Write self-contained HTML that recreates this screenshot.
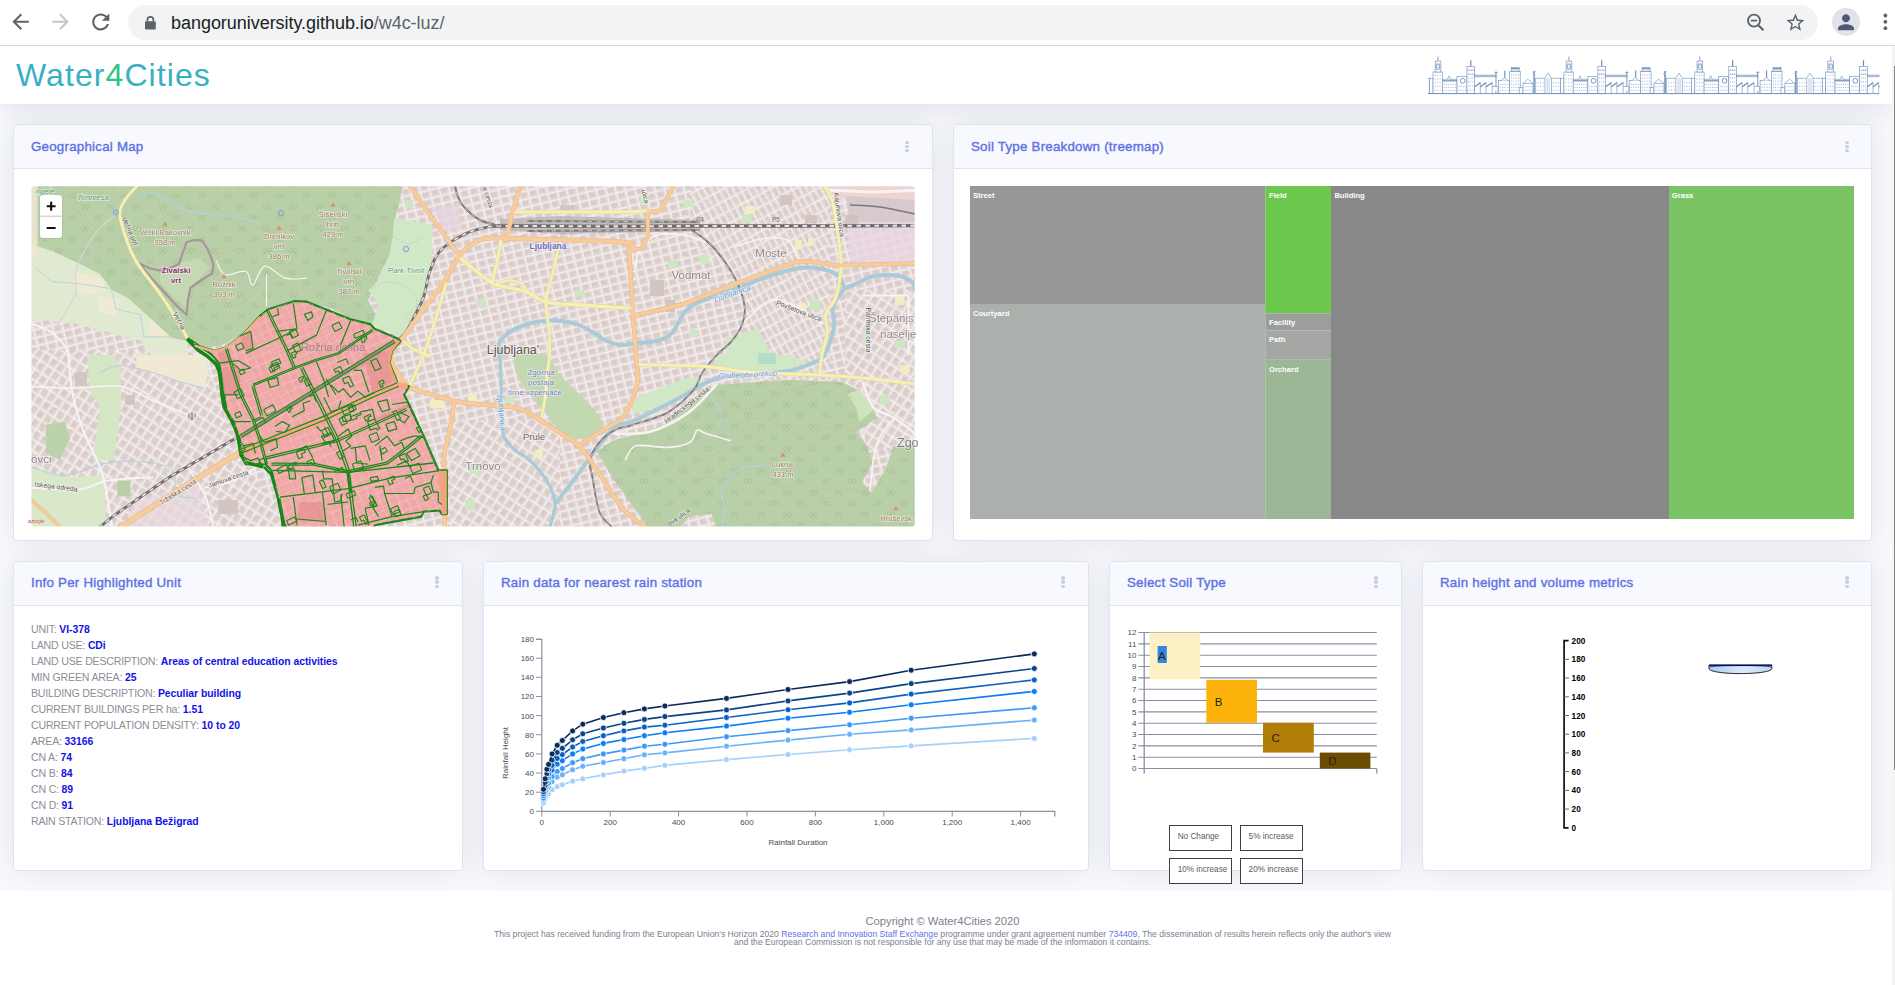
<!DOCTYPE html>
<html>
<head>
<meta charset="utf-8">
<title>Water4Cities</title>
<style>
*{box-sizing:border-box;margin:0;padding:0}
html,body{width:1895px;height:985px;overflow:hidden}
body{font-family:"Liberation Sans",sans-serif;background:#fff;position:relative;color:#525f7f}
.abs{position:absolute}
svg{display:block;overflow:visible}
svg text{font-family:"Liberation Sans",sans-serif}
/* browser chrome */
#chrome{position:absolute;left:0;top:0;width:1895px;height:46px;background:#fff;border-bottom:1px solid #d6d8db;z-index:20}
#pill{position:absolute;left:128px;top:5px;width:1690px;height:35px;border-radius:17.5px;background:#f1f3f4}
#url{position:absolute;left:171px;top:11.6px;font-size:18px;line-height:22px;color:#202124;white-space:nowrap;letter-spacing:-0.04px}
#url span{color:#5f6368}
/* page */
#page{position:absolute;left:0;top:46px;width:1892px;height:939px;background:#f8f9fe;overflow:hidden}
#sb{position:absolute;left:1892px;top:46px;width:3px;height:939px;background:#f4f4f4;z-index:15}
#sb i{position:absolute;left:1.8px;top:20px;width:1.2px;height:704px;background:#858585}
#hdr{position:absolute;left:0;top:0;width:1892px;height:58px;background:#fff;box-shadow:0 0 30px 0 rgba(0,0,5,.125);z-index:5}
#brand{position:absolute;left:16px;top:9.2px;font-size:32px;line-height:40px;color:#38b0c4;white-space:nowrap;letter-spacing:1.07px}
#brand b{font-weight:normal;color:#2cc585}
.card{position:absolute;background:#fff;border:1px solid #e0e3f2;border-radius:4px;box-shadow:0 0 30px 0 rgba(0,0,5,.085)}
.card .ch{position:absolute;left:0;top:0;right:0;height:44px;background:#f8f9fe;border-bottom:1px solid #e1e4f2;border-radius:3px 3px 0 0}
.card .ch h6{position:absolute;left:17px;top:13.5px;font-size:13.3px;line-height:16px;font-weight:normal;-webkit-text-stroke:0.4px #5e72e4;letter-spacing:0.24px;color:#5e72e4;white-space:nowrap}
.kebab{position:absolute;right:23px;top:15.6px;width:3.6px;height:13px}
.kebab i{position:absolute;left:0;width:3.6px;height:3.6px;border-radius:50%;background:#cbcee2}
#foot{position:absolute;left:0;top:845px;width:1892px;height:94px;background:#fff;color:#7b8090;z-index:1}
#foot div{position:absolute;white-space:nowrap;text-align:center;left:0;width:1885px}
#foot a{color:#5e72e4;text-decoration:none}
/* treemap */
#tm{position:absolute;left:970px;top:140.3px;width:884px;height:332.5px}
#tm div{position:absolute;color:#fff;font-size:7.6px;font-weight:bold;line-height:10px;padding:5px 0 0 3px;white-space:nowrap;overflow:hidden}
/* info */
#info{position:absolute;left:31px;top:575px;font-size:10.6px;line-height:16px;color:#8a8e97;white-space:nowrap;letter-spacing:-0.2px}
#info div{height:16px;overflow:visible}
#info b{line-height:10px;color:#1212e6;font-weight:bold;font-size:10.4px;letter-spacing:-0.03px}
.btn{position:absolute;width:63.6px;height:26px;background:#fff;border:1.3px solid #404040;font-size:8.2px;line-height:10px;color:#5a5a66;padding:6.3px 0 0 8px;white-space:nowrap;z-index:6}
#c2 .kebab,#c6 .kebab{right:22px}
#c3 h6,#c4 h6,#c5 h6,#c6 h6{top:12.6px}
#c3 .kebab,#c4 .kebab,#c5 .kebab,#c6 .kebab{top:14.4px}
</style>
</head>
<body>
<div id="chrome">
  <div id="pill"></div>
  <svg class="abs" style="left:0;top:0;width:1895px;height:46px" viewBox="0 0 1895 46">
    <path transform="translate(8.3 9.5) scale(1.025)" fill="#5f6368" d="M20 11H7.83l5.59-5.59L12 4l-8 8 8 8 1.41-1.41L7.83 13H20v-2z"/>
    <path transform="translate(48.3 9.5) scale(1.025)" fill="#c4c7cb" d="M12 4l-1.41 1.41L16.17 11H4v2h12.17l-5.58 5.59L12 20l8-8z"/>
    <path transform="translate(87.9 9.1) scale(1.07)" fill="#5f6368" d="M17.65 6.35C16.2 4.9 14.21 4 12 4c-4.42 0-7.99 3.58-7.99 8s3.57 8 7.99 8c3.73 0 6.84-2.55 7.73-6h-2.08c-.82 2.33-3.04 4-5.65 4-3.31 0-6-2.69-6-6s2.69-6 6-6c1.66 0 3.14.69 4.22 1.78L13 11h7V4l-2.35 2.35z"/>
    <rect x="145" y="21.2" width="10.8" height="8.2" rx="1.2" fill="#5f6368"/>
    <path d="M147.4 21.5v-1.6a3 3 0 0 1 6 0v1.6" fill="none" stroke="#5f6368" stroke-width="1.7"/>
    <circle cx="1754" cy="20.6" r="6" fill="none" stroke="#5f6368" stroke-width="1.9"/>
    <path d="M1758.4 25.2l5 5.1" stroke="#5f6368" stroke-width="2.2"/>
    <path d="M1750.8 20.6h6.4" stroke="#5f6368" stroke-width="1.7"/>
    <path transform="translate(1784.6 11.8) scale(0.9)" fill="#5f6368" d="M22 9.24l-7.19-.62L12 2 9.19 8.63 2 9.24l5.46 4.73L5.82 21 12 17.27 18.18 21l-1.63-7.03L22 9.24zM12 15.4l-3.76 2.27 1-4.28-3.32-2.88 4.38-.38L12 6.1l1.71 4.04 4.38.38-3.32 2.88 1 4.28L12 15.4z"/>
    <circle cx="1846" cy="21.9" r="14" fill="#e1e3e8"/>
    <path transform="translate(1834 10.2)" fill="#4e5a74" d="M12 12c2.21 0 4-1.79 4-4s-1.79-4-4-4-4 1.79-4 4 1.79 4 4 4zm0 2c-2.67 0-8 1.34-8 4v2h16v-2c0-2.66-5.33-4-8-4z"/>
    <circle cx="1885.4" cy="15.5" r="1.9" fill="#5f6368"/><circle cx="1885.4" cy="21.8" r="1.9" fill="#5f6368"/><circle cx="1885.4" cy="28.2" r="1.9" fill="#5f6368"/>
  </svg>
  <div id="url">bangoruniversity.github.io<span>/w4c-luz/</span></div>
</div>
<div id="page">
  <div id="hdr">
    <div id="brand">Water<b>4</b>Cities</div>
    <svg class="abs" style="left:1428px;top:9px;width:452px;height:40px" viewBox="1428 55 452 40"><defs><clipPath id="skc"><rect x="1428" y="55" width="451.5" height="40"/></clipPath></defs><g clip-path="url(#skc)"><g transform="translate(1302.1 55.9)"><g fill="none" stroke="#6a8cba" stroke-width="0.6"><rect x="0.0" y="16.1" width="9.3" height="21.4" fill="#fff"/><rect x="2.2" y="5.2" width="5.7" height="10.9" fill="#fff"/><path d="M5 0.3V5.2M4.3 3h1.4"/><circle cx="5" cy="10.5" r="1.7" fill="#fff"/><path d="M3.2 8h3.6v5.5h-3.6z" fill="none"/><path d="M2.1 18.9v1.1M2.1 22.6v1.1M2.1 26.2v1.1M2.1 29.9v1.1M2.1 33.6v1.1M4.7 18.9v1.1M4.7 22.6v1.1M4.7 26.2v1.1M4.7 29.9v1.1M4.7 33.6v1.1M7.2 18.9v1.1M7.2 22.6v1.1M7.2 26.2v1.1M7.2 29.9v1.1M7.2 33.6v1.1" stroke-width="0.8" opacity="0.75"/><rect x="9.3" y="23.3" width="14.7" height="14.2" fill="#fff"/><path d="M9.3 24.8H24" stroke-width="1.6" opacity="0.8"/><path d="M14.5 23.3 L16 20 L17.5 23.3" fill="#fff"/><path d="M11.1 28.0v1.1M11.1 31.0v1.1M11.1 34.0v1.1M13.4 28.0v1.1M13.4 31.0v1.1M13.4 34.0v1.1M15.6 28.0v1.1M15.6 31.0v1.1M15.6 34.0v1.1M17.9 28.0v1.1M17.9 31.0v1.1M17.9 34.0v1.1M20.1 28.0v1.1M20.1 31.0v1.1M20.1 34.0v1.1M22.4 28.0v1.1M22.4 31.0v1.1M22.4 34.0v1.1" stroke-width="0.8" opacity="0.75"/><rect x="24.0" y="20.4" width="10.0" height="17.1" fill="#fff"/><circle cx="29.7" cy="24.9" r="2.4" fill="#fff" stroke-width="0.9"/><path d="M25.9 30.2v1.1M25.9 33.8v1.1M28.0 30.2v1.1M28.0 33.8v1.1M30.2 30.2v1.1M30.2 33.8v1.1M32.3 30.2v1.1M32.3 33.8v1.1" stroke-width="0.8" opacity="0.75"/><rect x="34.0" y="10.4" width="7.6" height="27.1" fill="#fff"/><path d="M37.8 4.3V10.4" stroke-width="1.2"/><path d="M35.7 13.5v1.1M35.7 17.5v1.1M35.7 21.5v1.1M35.7 25.5v1.1M35.7 29.5v1.1M35.7 33.5v1.1M37.8 13.5v1.1M37.8 17.5v1.1M37.8 21.5v1.1M37.8 25.5v1.1M37.8 29.5v1.1M37.8 33.5v1.1M39.9 13.5v1.1M39.9 17.5v1.1M39.9 21.5v1.1M39.9 25.5v1.1M39.9 29.5v1.1M39.9 33.5v1.1" stroke-width="0.8" opacity="0.75"/><path d="M34 14.5h7.6M34 18.5h7.6" opacity="0.6"/><rect x="41.6" y="19.2" width="21.4" height="1.7" fill="#cfdbeb"/><path d="M63 15.7V37.5M61.5 16.5h3" stroke-width="0.9"/><path d="M41.6 37.5V30.9L47.3 26.6V37.5M47.3 30.9L53 26.6V37.5M53 30.9L59.2 26.6V37.5M59.2 30.5H64.9V37.5" fill="#fff"/><path d="M41.6 31L47.3 26.8M47.3 31L53 26.8M53 31L59.2 26.8" stroke-width="1.1"/><rect x="65.3" y="24.7" width="11.4" height="12.8" fill="#fff"/><path d="M68 24.7L71.5 21.8L75 24.7" fill="#fff"/><path d="M71.8 14.7V21.8" stroke-width="1.1"/><path d="M67.2 28.0v1.1M67.2 31.0v1.1M67.2 34.0v1.1M69.8 28.0v1.1M69.8 31.0v1.1M69.8 34.0v1.1M72.2 28.0v1.1M72.2 31.0v1.1M72.2 34.0v1.1M74.8 28.0v1.1M74.8 31.0v1.1M74.8 34.0v1.1" stroke-width="0.8" opacity="0.75"/><rect x="76.7" y="15.7" width="10.5" height="21.8" fill="#fff"/><rect x="78.2" y="11.4" width="8.0" height="4.3" fill="#dbe4f0"/><path d="M78.2 12.8h8" stroke-width="1"/><path d="M78.6 18.5v1.1M78.6 21.6v1.1M78.6 24.7v1.1M78.6 27.8v1.1M78.6 30.9v1.1M78.6 34.0v1.1M80.8 18.5v1.1M80.8 21.6v1.1M80.8 24.7v1.1M80.8 27.8v1.1M80.8 30.9v1.1M80.8 34.0v1.1M83.2 18.5v1.1M83.2 21.6v1.1M83.2 24.7v1.1M83.2 27.8v1.1M83.2 30.9v1.1M83.2 34.0v1.1M85.4 18.5v1.1M85.4 21.6v1.1M85.4 24.7v1.1M85.4 27.8v1.1M85.4 30.9v1.1M85.4 34.0v1.1" stroke-width="0.8" opacity="0.75"/><rect x="86.2" y="31.8" width="3.8" height="5.7" fill="#fff"/><path d="M90 37.5V27.5L94.8 23.3L100 27.5V37.5Z" fill="#fff"/><path d="M90 27.5H100" /><path d="M91.9 30.2v1.1M91.9 33.8v1.1M94.0 30.2v1.1M94.0 33.8v1.1M96.2 30.2v1.1M96.2 33.8v1.1M98.3 30.2v1.1M98.3 33.8v1.1" stroke-width="0.8" opacity="0.75"/><path d="M100.7 16.6V37.5M101.6 18V37.5" stroke-width="0.8"/><path d="M99.6 17.8L102.6 15.2M100.4 15l1.6 2.4" stroke-width="1"/><rect x="102.8" y="22.3" width="24.8" height="15.2" fill="#fff"/><path d="M111.9 37.5V22.3L115.2 17.1L118.5 22.3V37.5" fill="#fff"/><path d="M114.2 22V37.5M116.2 22V37.5" opacity="0.7"/><path d="M104.9 26.3v1.1M104.9 30.0v1.1M104.9 33.7v1.1M107.5 26.3v1.1M107.5 30.0v1.1M107.5 33.7v1.1M110.1 26.3v1.1M110.1 30.0v1.1M110.1 33.7v1.1" stroke-width="0.8" opacity="0.75"/><path d="M120.3 26.3v1.1M120.3 30.0v1.1M120.3 33.7v1.1M123.0 26.3v1.1M123.0 30.0v1.1M123.0 33.7v1.1M125.7 26.3v1.1M125.7 30.0v1.1M125.7 33.7v1.1" stroke-width="0.8" opacity="0.75"/><rect x="127.6" y="22.3" width="3.3" height="15.2" fill="#fff"/></g></g><g transform="translate(1433.0 55.9)"><g fill="none" stroke="#6a8cba" stroke-width="0.6"><rect x="0.0" y="16.1" width="9.3" height="21.4" fill="#fff"/><rect x="2.2" y="5.2" width="5.7" height="10.9" fill="#fff"/><path d="M5 0.3V5.2M4.3 3h1.4"/><circle cx="5" cy="10.5" r="1.7" fill="#fff"/><path d="M3.2 8h3.6v5.5h-3.6z" fill="none"/><path d="M2.1 18.9v1.1M2.1 22.6v1.1M2.1 26.2v1.1M2.1 29.9v1.1M2.1 33.6v1.1M4.7 18.9v1.1M4.7 22.6v1.1M4.7 26.2v1.1M4.7 29.9v1.1M4.7 33.6v1.1M7.2 18.9v1.1M7.2 22.6v1.1M7.2 26.2v1.1M7.2 29.9v1.1M7.2 33.6v1.1" stroke-width="0.8" opacity="0.75"/><rect x="9.3" y="23.3" width="14.7" height="14.2" fill="#fff"/><path d="M9.3 24.8H24" stroke-width="1.6" opacity="0.8"/><path d="M14.5 23.3 L16 20 L17.5 23.3" fill="#fff"/><path d="M11.1 28.0v1.1M11.1 31.0v1.1M11.1 34.0v1.1M13.4 28.0v1.1M13.4 31.0v1.1M13.4 34.0v1.1M15.6 28.0v1.1M15.6 31.0v1.1M15.6 34.0v1.1M17.9 28.0v1.1M17.9 31.0v1.1M17.9 34.0v1.1M20.1 28.0v1.1M20.1 31.0v1.1M20.1 34.0v1.1M22.4 28.0v1.1M22.4 31.0v1.1M22.4 34.0v1.1" stroke-width="0.8" opacity="0.75"/><rect x="24.0" y="20.4" width="10.0" height="17.1" fill="#fff"/><circle cx="29.7" cy="24.9" r="2.4" fill="#fff" stroke-width="0.9"/><path d="M25.9 30.2v1.1M25.9 33.8v1.1M28.0 30.2v1.1M28.0 33.8v1.1M30.2 30.2v1.1M30.2 33.8v1.1M32.3 30.2v1.1M32.3 33.8v1.1" stroke-width="0.8" opacity="0.75"/><rect x="34.0" y="10.4" width="7.6" height="27.1" fill="#fff"/><path d="M37.8 4.3V10.4" stroke-width="1.2"/><path d="M35.7 13.5v1.1M35.7 17.5v1.1M35.7 21.5v1.1M35.7 25.5v1.1M35.7 29.5v1.1M35.7 33.5v1.1M37.8 13.5v1.1M37.8 17.5v1.1M37.8 21.5v1.1M37.8 25.5v1.1M37.8 29.5v1.1M37.8 33.5v1.1M39.9 13.5v1.1M39.9 17.5v1.1M39.9 21.5v1.1M39.9 25.5v1.1M39.9 29.5v1.1M39.9 33.5v1.1" stroke-width="0.8" opacity="0.75"/><path d="M34 14.5h7.6M34 18.5h7.6" opacity="0.6"/><rect x="41.6" y="19.2" width="21.4" height="1.7" fill="#cfdbeb"/><path d="M63 15.7V37.5M61.5 16.5h3" stroke-width="0.9"/><path d="M41.6 37.5V30.9L47.3 26.6V37.5M47.3 30.9L53 26.6V37.5M53 30.9L59.2 26.6V37.5M59.2 30.5H64.9V37.5" fill="#fff"/><path d="M41.6 31L47.3 26.8M47.3 31L53 26.8M53 31L59.2 26.8" stroke-width="1.1"/><rect x="65.3" y="24.7" width="11.4" height="12.8" fill="#fff"/><path d="M68 24.7L71.5 21.8L75 24.7" fill="#fff"/><path d="M71.8 14.7V21.8" stroke-width="1.1"/><path d="M67.2 28.0v1.1M67.2 31.0v1.1M67.2 34.0v1.1M69.8 28.0v1.1M69.8 31.0v1.1M69.8 34.0v1.1M72.2 28.0v1.1M72.2 31.0v1.1M72.2 34.0v1.1M74.8 28.0v1.1M74.8 31.0v1.1M74.8 34.0v1.1" stroke-width="0.8" opacity="0.75"/><rect x="76.7" y="15.7" width="10.5" height="21.8" fill="#fff"/><rect x="78.2" y="11.4" width="8.0" height="4.3" fill="#dbe4f0"/><path d="M78.2 12.8h8" stroke-width="1"/><path d="M78.6 18.5v1.1M78.6 21.6v1.1M78.6 24.7v1.1M78.6 27.8v1.1M78.6 30.9v1.1M78.6 34.0v1.1M80.8 18.5v1.1M80.8 21.6v1.1M80.8 24.7v1.1M80.8 27.8v1.1M80.8 30.9v1.1M80.8 34.0v1.1M83.2 18.5v1.1M83.2 21.6v1.1M83.2 24.7v1.1M83.2 27.8v1.1M83.2 30.9v1.1M83.2 34.0v1.1M85.4 18.5v1.1M85.4 21.6v1.1M85.4 24.7v1.1M85.4 27.8v1.1M85.4 30.9v1.1M85.4 34.0v1.1" stroke-width="0.8" opacity="0.75"/><rect x="86.2" y="31.8" width="3.8" height="5.7" fill="#fff"/><path d="M90 37.5V27.5L94.8 23.3L100 27.5V37.5Z" fill="#fff"/><path d="M90 27.5H100" /><path d="M91.9 30.2v1.1M91.9 33.8v1.1M94.0 30.2v1.1M94.0 33.8v1.1M96.2 30.2v1.1M96.2 33.8v1.1M98.3 30.2v1.1M98.3 33.8v1.1" stroke-width="0.8" opacity="0.75"/><path d="M100.7 16.6V37.5M101.6 18V37.5" stroke-width="0.8"/><path d="M99.6 17.8L102.6 15.2M100.4 15l1.6 2.4" stroke-width="1"/><rect x="102.8" y="22.3" width="24.8" height="15.2" fill="#fff"/><path d="M111.9 37.5V22.3L115.2 17.1L118.5 22.3V37.5" fill="#fff"/><path d="M114.2 22V37.5M116.2 22V37.5" opacity="0.7"/><path d="M104.9 26.3v1.1M104.9 30.0v1.1M104.9 33.7v1.1M107.5 26.3v1.1M107.5 30.0v1.1M107.5 33.7v1.1M110.1 26.3v1.1M110.1 30.0v1.1M110.1 33.7v1.1" stroke-width="0.8" opacity="0.75"/><path d="M120.3 26.3v1.1M120.3 30.0v1.1M120.3 33.7v1.1M123.0 26.3v1.1M123.0 30.0v1.1M123.0 33.7v1.1M125.7 26.3v1.1M125.7 30.0v1.1M125.7 33.7v1.1" stroke-width="0.8" opacity="0.75"/><rect x="127.6" y="22.3" width="3.3" height="15.2" fill="#fff"/></g></g><g transform="translate(1563.9 55.9)"><g fill="none" stroke="#6a8cba" stroke-width="0.6"><rect x="0.0" y="16.1" width="9.3" height="21.4" fill="#fff"/><rect x="2.2" y="5.2" width="5.7" height="10.9" fill="#fff"/><path d="M5 0.3V5.2M4.3 3h1.4"/><circle cx="5" cy="10.5" r="1.7" fill="#fff"/><path d="M3.2 8h3.6v5.5h-3.6z" fill="none"/><path d="M2.1 18.9v1.1M2.1 22.6v1.1M2.1 26.2v1.1M2.1 29.9v1.1M2.1 33.6v1.1M4.7 18.9v1.1M4.7 22.6v1.1M4.7 26.2v1.1M4.7 29.9v1.1M4.7 33.6v1.1M7.2 18.9v1.1M7.2 22.6v1.1M7.2 26.2v1.1M7.2 29.9v1.1M7.2 33.6v1.1" stroke-width="0.8" opacity="0.75"/><rect x="9.3" y="23.3" width="14.7" height="14.2" fill="#fff"/><path d="M9.3 24.8H24" stroke-width="1.6" opacity="0.8"/><path d="M14.5 23.3 L16 20 L17.5 23.3" fill="#fff"/><path d="M11.1 28.0v1.1M11.1 31.0v1.1M11.1 34.0v1.1M13.4 28.0v1.1M13.4 31.0v1.1M13.4 34.0v1.1M15.6 28.0v1.1M15.6 31.0v1.1M15.6 34.0v1.1M17.9 28.0v1.1M17.9 31.0v1.1M17.9 34.0v1.1M20.1 28.0v1.1M20.1 31.0v1.1M20.1 34.0v1.1M22.4 28.0v1.1M22.4 31.0v1.1M22.4 34.0v1.1" stroke-width="0.8" opacity="0.75"/><rect x="24.0" y="20.4" width="10.0" height="17.1" fill="#fff"/><circle cx="29.7" cy="24.9" r="2.4" fill="#fff" stroke-width="0.9"/><path d="M25.9 30.2v1.1M25.9 33.8v1.1M28.0 30.2v1.1M28.0 33.8v1.1M30.2 30.2v1.1M30.2 33.8v1.1M32.3 30.2v1.1M32.3 33.8v1.1" stroke-width="0.8" opacity="0.75"/><rect x="34.0" y="10.4" width="7.6" height="27.1" fill="#fff"/><path d="M37.8 4.3V10.4" stroke-width="1.2"/><path d="M35.7 13.5v1.1M35.7 17.5v1.1M35.7 21.5v1.1M35.7 25.5v1.1M35.7 29.5v1.1M35.7 33.5v1.1M37.8 13.5v1.1M37.8 17.5v1.1M37.8 21.5v1.1M37.8 25.5v1.1M37.8 29.5v1.1M37.8 33.5v1.1M39.9 13.5v1.1M39.9 17.5v1.1M39.9 21.5v1.1M39.9 25.5v1.1M39.9 29.5v1.1M39.9 33.5v1.1" stroke-width="0.8" opacity="0.75"/><path d="M34 14.5h7.6M34 18.5h7.6" opacity="0.6"/><rect x="41.6" y="19.2" width="21.4" height="1.7" fill="#cfdbeb"/><path d="M63 15.7V37.5M61.5 16.5h3" stroke-width="0.9"/><path d="M41.6 37.5V30.9L47.3 26.6V37.5M47.3 30.9L53 26.6V37.5M53 30.9L59.2 26.6V37.5M59.2 30.5H64.9V37.5" fill="#fff"/><path d="M41.6 31L47.3 26.8M47.3 31L53 26.8M53 31L59.2 26.8" stroke-width="1.1"/><rect x="65.3" y="24.7" width="11.4" height="12.8" fill="#fff"/><path d="M68 24.7L71.5 21.8L75 24.7" fill="#fff"/><path d="M71.8 14.7V21.8" stroke-width="1.1"/><path d="M67.2 28.0v1.1M67.2 31.0v1.1M67.2 34.0v1.1M69.8 28.0v1.1M69.8 31.0v1.1M69.8 34.0v1.1M72.2 28.0v1.1M72.2 31.0v1.1M72.2 34.0v1.1M74.8 28.0v1.1M74.8 31.0v1.1M74.8 34.0v1.1" stroke-width="0.8" opacity="0.75"/><rect x="76.7" y="15.7" width="10.5" height="21.8" fill="#fff"/><rect x="78.2" y="11.4" width="8.0" height="4.3" fill="#dbe4f0"/><path d="M78.2 12.8h8" stroke-width="1"/><path d="M78.6 18.5v1.1M78.6 21.6v1.1M78.6 24.7v1.1M78.6 27.8v1.1M78.6 30.9v1.1M78.6 34.0v1.1M80.8 18.5v1.1M80.8 21.6v1.1M80.8 24.7v1.1M80.8 27.8v1.1M80.8 30.9v1.1M80.8 34.0v1.1M83.2 18.5v1.1M83.2 21.6v1.1M83.2 24.7v1.1M83.2 27.8v1.1M83.2 30.9v1.1M83.2 34.0v1.1M85.4 18.5v1.1M85.4 21.6v1.1M85.4 24.7v1.1M85.4 27.8v1.1M85.4 30.9v1.1M85.4 34.0v1.1" stroke-width="0.8" opacity="0.75"/><rect x="86.2" y="31.8" width="3.8" height="5.7" fill="#fff"/><path d="M90 37.5V27.5L94.8 23.3L100 27.5V37.5Z" fill="#fff"/><path d="M90 27.5H100" /><path d="M91.9 30.2v1.1M91.9 33.8v1.1M94.0 30.2v1.1M94.0 33.8v1.1M96.2 30.2v1.1M96.2 33.8v1.1M98.3 30.2v1.1M98.3 33.8v1.1" stroke-width="0.8" opacity="0.75"/><path d="M100.7 16.6V37.5M101.6 18V37.5" stroke-width="0.8"/><path d="M99.6 17.8L102.6 15.2M100.4 15l1.6 2.4" stroke-width="1"/><rect x="102.8" y="22.3" width="24.8" height="15.2" fill="#fff"/><path d="M111.9 37.5V22.3L115.2 17.1L118.5 22.3V37.5" fill="#fff"/><path d="M114.2 22V37.5M116.2 22V37.5" opacity="0.7"/><path d="M104.9 26.3v1.1M104.9 30.0v1.1M104.9 33.7v1.1M107.5 26.3v1.1M107.5 30.0v1.1M107.5 33.7v1.1M110.1 26.3v1.1M110.1 30.0v1.1M110.1 33.7v1.1" stroke-width="0.8" opacity="0.75"/><path d="M120.3 26.3v1.1M120.3 30.0v1.1M120.3 33.7v1.1M123.0 26.3v1.1M123.0 30.0v1.1M123.0 33.7v1.1M125.7 26.3v1.1M125.7 30.0v1.1M125.7 33.7v1.1" stroke-width="0.8" opacity="0.75"/><rect x="127.6" y="22.3" width="3.3" height="15.2" fill="#fff"/></g></g><g transform="translate(1694.8 55.9)"><g fill="none" stroke="#6a8cba" stroke-width="0.6"><rect x="0.0" y="16.1" width="9.3" height="21.4" fill="#fff"/><rect x="2.2" y="5.2" width="5.7" height="10.9" fill="#fff"/><path d="M5 0.3V5.2M4.3 3h1.4"/><circle cx="5" cy="10.5" r="1.7" fill="#fff"/><path d="M3.2 8h3.6v5.5h-3.6z" fill="none"/><path d="M2.1 18.9v1.1M2.1 22.6v1.1M2.1 26.2v1.1M2.1 29.9v1.1M2.1 33.6v1.1M4.7 18.9v1.1M4.7 22.6v1.1M4.7 26.2v1.1M4.7 29.9v1.1M4.7 33.6v1.1M7.2 18.9v1.1M7.2 22.6v1.1M7.2 26.2v1.1M7.2 29.9v1.1M7.2 33.6v1.1" stroke-width="0.8" opacity="0.75"/><rect x="9.3" y="23.3" width="14.7" height="14.2" fill="#fff"/><path d="M9.3 24.8H24" stroke-width="1.6" opacity="0.8"/><path d="M14.5 23.3 L16 20 L17.5 23.3" fill="#fff"/><path d="M11.1 28.0v1.1M11.1 31.0v1.1M11.1 34.0v1.1M13.4 28.0v1.1M13.4 31.0v1.1M13.4 34.0v1.1M15.6 28.0v1.1M15.6 31.0v1.1M15.6 34.0v1.1M17.9 28.0v1.1M17.9 31.0v1.1M17.9 34.0v1.1M20.1 28.0v1.1M20.1 31.0v1.1M20.1 34.0v1.1M22.4 28.0v1.1M22.4 31.0v1.1M22.4 34.0v1.1" stroke-width="0.8" opacity="0.75"/><rect x="24.0" y="20.4" width="10.0" height="17.1" fill="#fff"/><circle cx="29.7" cy="24.9" r="2.4" fill="#fff" stroke-width="0.9"/><path d="M25.9 30.2v1.1M25.9 33.8v1.1M28.0 30.2v1.1M28.0 33.8v1.1M30.2 30.2v1.1M30.2 33.8v1.1M32.3 30.2v1.1M32.3 33.8v1.1" stroke-width="0.8" opacity="0.75"/><rect x="34.0" y="10.4" width="7.6" height="27.1" fill="#fff"/><path d="M37.8 4.3V10.4" stroke-width="1.2"/><path d="M35.7 13.5v1.1M35.7 17.5v1.1M35.7 21.5v1.1M35.7 25.5v1.1M35.7 29.5v1.1M35.7 33.5v1.1M37.8 13.5v1.1M37.8 17.5v1.1M37.8 21.5v1.1M37.8 25.5v1.1M37.8 29.5v1.1M37.8 33.5v1.1M39.9 13.5v1.1M39.9 17.5v1.1M39.9 21.5v1.1M39.9 25.5v1.1M39.9 29.5v1.1M39.9 33.5v1.1" stroke-width="0.8" opacity="0.75"/><path d="M34 14.5h7.6M34 18.5h7.6" opacity="0.6"/><rect x="41.6" y="19.2" width="21.4" height="1.7" fill="#cfdbeb"/><path d="M63 15.7V37.5M61.5 16.5h3" stroke-width="0.9"/><path d="M41.6 37.5V30.9L47.3 26.6V37.5M47.3 30.9L53 26.6V37.5M53 30.9L59.2 26.6V37.5M59.2 30.5H64.9V37.5" fill="#fff"/><path d="M41.6 31L47.3 26.8M47.3 31L53 26.8M53 31L59.2 26.8" stroke-width="1.1"/><rect x="65.3" y="24.7" width="11.4" height="12.8" fill="#fff"/><path d="M68 24.7L71.5 21.8L75 24.7" fill="#fff"/><path d="M71.8 14.7V21.8" stroke-width="1.1"/><path d="M67.2 28.0v1.1M67.2 31.0v1.1M67.2 34.0v1.1M69.8 28.0v1.1M69.8 31.0v1.1M69.8 34.0v1.1M72.2 28.0v1.1M72.2 31.0v1.1M72.2 34.0v1.1M74.8 28.0v1.1M74.8 31.0v1.1M74.8 34.0v1.1" stroke-width="0.8" opacity="0.75"/><rect x="76.7" y="15.7" width="10.5" height="21.8" fill="#fff"/><rect x="78.2" y="11.4" width="8.0" height="4.3" fill="#dbe4f0"/><path d="M78.2 12.8h8" stroke-width="1"/><path d="M78.6 18.5v1.1M78.6 21.6v1.1M78.6 24.7v1.1M78.6 27.8v1.1M78.6 30.9v1.1M78.6 34.0v1.1M80.8 18.5v1.1M80.8 21.6v1.1M80.8 24.7v1.1M80.8 27.8v1.1M80.8 30.9v1.1M80.8 34.0v1.1M83.2 18.5v1.1M83.2 21.6v1.1M83.2 24.7v1.1M83.2 27.8v1.1M83.2 30.9v1.1M83.2 34.0v1.1M85.4 18.5v1.1M85.4 21.6v1.1M85.4 24.7v1.1M85.4 27.8v1.1M85.4 30.9v1.1M85.4 34.0v1.1" stroke-width="0.8" opacity="0.75"/><rect x="86.2" y="31.8" width="3.8" height="5.7" fill="#fff"/><path d="M90 37.5V27.5L94.8 23.3L100 27.5V37.5Z" fill="#fff"/><path d="M90 27.5H100" /><path d="M91.9 30.2v1.1M91.9 33.8v1.1M94.0 30.2v1.1M94.0 33.8v1.1M96.2 30.2v1.1M96.2 33.8v1.1M98.3 30.2v1.1M98.3 33.8v1.1" stroke-width="0.8" opacity="0.75"/><path d="M100.7 16.6V37.5M101.6 18V37.5" stroke-width="0.8"/><path d="M99.6 17.8L102.6 15.2M100.4 15l1.6 2.4" stroke-width="1"/><rect x="102.8" y="22.3" width="24.8" height="15.2" fill="#fff"/><path d="M111.9 37.5V22.3L115.2 17.1L118.5 22.3V37.5" fill="#fff"/><path d="M114.2 22V37.5M116.2 22V37.5" opacity="0.7"/><path d="M104.9 26.3v1.1M104.9 30.0v1.1M104.9 33.7v1.1M107.5 26.3v1.1M107.5 30.0v1.1M107.5 33.7v1.1M110.1 26.3v1.1M110.1 30.0v1.1M110.1 33.7v1.1" stroke-width="0.8" opacity="0.75"/><path d="M120.3 26.3v1.1M120.3 30.0v1.1M120.3 33.7v1.1M123.0 26.3v1.1M123.0 30.0v1.1M123.0 33.7v1.1M125.7 26.3v1.1M125.7 30.0v1.1M125.7 33.7v1.1" stroke-width="0.8" opacity="0.75"/><rect x="127.6" y="22.3" width="3.3" height="15.2" fill="#fff"/></g></g><g transform="translate(1825.7 55.9)"><g fill="none" stroke="#6a8cba" stroke-width="0.6"><rect x="0.0" y="16.1" width="9.3" height="21.4" fill="#fff"/><rect x="2.2" y="5.2" width="5.7" height="10.9" fill="#fff"/><path d="M5 0.3V5.2M4.3 3h1.4"/><circle cx="5" cy="10.5" r="1.7" fill="#fff"/><path d="M3.2 8h3.6v5.5h-3.6z" fill="none"/><path d="M2.1 18.9v1.1M2.1 22.6v1.1M2.1 26.2v1.1M2.1 29.9v1.1M2.1 33.6v1.1M4.7 18.9v1.1M4.7 22.6v1.1M4.7 26.2v1.1M4.7 29.9v1.1M4.7 33.6v1.1M7.2 18.9v1.1M7.2 22.6v1.1M7.2 26.2v1.1M7.2 29.9v1.1M7.2 33.6v1.1" stroke-width="0.8" opacity="0.75"/><rect x="9.3" y="23.3" width="14.7" height="14.2" fill="#fff"/><path d="M9.3 24.8H24" stroke-width="1.6" opacity="0.8"/><path d="M14.5 23.3 L16 20 L17.5 23.3" fill="#fff"/><path d="M11.1 28.0v1.1M11.1 31.0v1.1M11.1 34.0v1.1M13.4 28.0v1.1M13.4 31.0v1.1M13.4 34.0v1.1M15.6 28.0v1.1M15.6 31.0v1.1M15.6 34.0v1.1M17.9 28.0v1.1M17.9 31.0v1.1M17.9 34.0v1.1M20.1 28.0v1.1M20.1 31.0v1.1M20.1 34.0v1.1M22.4 28.0v1.1M22.4 31.0v1.1M22.4 34.0v1.1" stroke-width="0.8" opacity="0.75"/><rect x="24.0" y="20.4" width="10.0" height="17.1" fill="#fff"/><circle cx="29.7" cy="24.9" r="2.4" fill="#fff" stroke-width="0.9"/><path d="M25.9 30.2v1.1M25.9 33.8v1.1M28.0 30.2v1.1M28.0 33.8v1.1M30.2 30.2v1.1M30.2 33.8v1.1M32.3 30.2v1.1M32.3 33.8v1.1" stroke-width="0.8" opacity="0.75"/><rect x="34.0" y="10.4" width="7.6" height="27.1" fill="#fff"/><path d="M37.8 4.3V10.4" stroke-width="1.2"/><path d="M35.7 13.5v1.1M35.7 17.5v1.1M35.7 21.5v1.1M35.7 25.5v1.1M35.7 29.5v1.1M35.7 33.5v1.1M37.8 13.5v1.1M37.8 17.5v1.1M37.8 21.5v1.1M37.8 25.5v1.1M37.8 29.5v1.1M37.8 33.5v1.1M39.9 13.5v1.1M39.9 17.5v1.1M39.9 21.5v1.1M39.9 25.5v1.1M39.9 29.5v1.1M39.9 33.5v1.1" stroke-width="0.8" opacity="0.75"/><path d="M34 14.5h7.6M34 18.5h7.6" opacity="0.6"/><rect x="41.6" y="19.2" width="21.4" height="1.7" fill="#cfdbeb"/><path d="M63 15.7V37.5M61.5 16.5h3" stroke-width="0.9"/><path d="M41.6 37.5V30.9L47.3 26.6V37.5M47.3 30.9L53 26.6V37.5M53 30.9L59.2 26.6V37.5M59.2 30.5H64.9V37.5" fill="#fff"/><path d="M41.6 31L47.3 26.8M47.3 31L53 26.8M53 31L59.2 26.8" stroke-width="1.1"/><rect x="65.3" y="24.7" width="11.4" height="12.8" fill="#fff"/><path d="M68 24.7L71.5 21.8L75 24.7" fill="#fff"/><path d="M71.8 14.7V21.8" stroke-width="1.1"/><path d="M67.2 28.0v1.1M67.2 31.0v1.1M67.2 34.0v1.1M69.8 28.0v1.1M69.8 31.0v1.1M69.8 34.0v1.1M72.2 28.0v1.1M72.2 31.0v1.1M72.2 34.0v1.1M74.8 28.0v1.1M74.8 31.0v1.1M74.8 34.0v1.1" stroke-width="0.8" opacity="0.75"/><rect x="76.7" y="15.7" width="10.5" height="21.8" fill="#fff"/><rect x="78.2" y="11.4" width="8.0" height="4.3" fill="#dbe4f0"/><path d="M78.2 12.8h8" stroke-width="1"/><path d="M78.6 18.5v1.1M78.6 21.6v1.1M78.6 24.7v1.1M78.6 27.8v1.1M78.6 30.9v1.1M78.6 34.0v1.1M80.8 18.5v1.1M80.8 21.6v1.1M80.8 24.7v1.1M80.8 27.8v1.1M80.8 30.9v1.1M80.8 34.0v1.1M83.2 18.5v1.1M83.2 21.6v1.1M83.2 24.7v1.1M83.2 27.8v1.1M83.2 30.9v1.1M83.2 34.0v1.1M85.4 18.5v1.1M85.4 21.6v1.1M85.4 24.7v1.1M85.4 27.8v1.1M85.4 30.9v1.1M85.4 34.0v1.1" stroke-width="0.8" opacity="0.75"/><rect x="86.2" y="31.8" width="3.8" height="5.7" fill="#fff"/><path d="M90 37.5V27.5L94.8 23.3L100 27.5V37.5Z" fill="#fff"/><path d="M90 27.5H100" /><path d="M91.9 30.2v1.1M91.9 33.8v1.1M94.0 30.2v1.1M94.0 33.8v1.1M96.2 30.2v1.1M96.2 33.8v1.1M98.3 30.2v1.1M98.3 33.8v1.1" stroke-width="0.8" opacity="0.75"/><path d="M100.7 16.6V37.5M101.6 18V37.5" stroke-width="0.8"/><path d="M99.6 17.8L102.6 15.2M100.4 15l1.6 2.4" stroke-width="1"/><rect x="102.8" y="22.3" width="24.8" height="15.2" fill="#fff"/><path d="M111.9 37.5V22.3L115.2 17.1L118.5 22.3V37.5" fill="#fff"/><path d="M114.2 22V37.5M116.2 22V37.5" opacity="0.7"/><path d="M104.9 26.3v1.1M104.9 30.0v1.1M104.9 33.7v1.1M107.5 26.3v1.1M107.5 30.0v1.1M107.5 33.7v1.1M110.1 26.3v1.1M110.1 30.0v1.1M110.1 33.7v1.1" stroke-width="0.8" opacity="0.75"/><path d="M120.3 26.3v1.1M120.3 30.0v1.1M120.3 33.7v1.1M123.0 26.3v1.1M123.0 30.0v1.1M123.0 33.7v1.1M125.7 26.3v1.1M125.7 30.0v1.1M125.7 33.7v1.1" stroke-width="0.8" opacity="0.75"/><rect x="127.6" y="22.3" width="3.3" height="15.2" fill="#fff"/></g></g><path d="M1428 93.6H1879.5" stroke="#6a8cba" stroke-width="0.9"/></g></svg>
  </div>

  <div class="card" id="c1" style="left:13px;top:78px;width:920px;height:417px">
    <div class="ch"><h6>Geographical Map</h6><div class="kebab"><i style="top:0"></i><i style="top:4.1px"></i><i style="top:8.2px"></i></div></div>
  </div>
  <div class="card" id="c2" style="left:953px;top:78px;width:919px;height:417px">
    <div class="ch"><h6>Soil Type Breakdown (treemap)</h6><div class="kebab"><i style="top:0"></i><i style="top:4.1px"></i><i style="top:8.2px"></i></div></div>
  </div>
  <div class="card" id="c3" style="left:13px;top:515px;width:450px;height:310px">
    <div class="ch"><h6>Info Per Highlighted Unit</h6><div class="kebab"><i style="top:0"></i><i style="top:4.1px"></i><i style="top:8.2px"></i></div></div>
  </div>
  <div class="card" id="c4" style="left:483px;top:515px;width:606px;height:310px">
    <div class="ch"><h6>Rain data for nearest rain station</h6><div class="kebab"><i style="top:0"></i><i style="top:4.1px"></i><i style="top:8.2px"></i></div></div>
  </div>
  <div class="card" id="c5" style="left:1109px;top:515px;width:293px;height:310px">
    <div class="ch"><h6>Select Soil Type</h6><div class="kebab"><i style="top:0"></i><i style="top:4.1px"></i><i style="top:8.2px"></i></div></div>
  </div>
  <div class="card" id="c6" style="left:1422px;top:515px;width:450px;height:310px">
    <div class="ch"><h6>Rain height and volume metrics</h6><div class="kebab"><i style="top:0"></i><i style="top:4.1px"></i><i style="top:8.2px"></i></div></div>
  </div>

  <!-- MAP (svg in page coords; page offset -46) -->
  <svg class="abs" style="left:31px;top:140px;width:885px;height:342px;z-index:3" viewBox="31 186 885 342">
  <defs>
<pattern id="g1" width="9.5" height="8" patternUnits="userSpaceOnUse" patternTransform="rotate(-14)"><rect width="9.5" height="8" fill="#e5dbda"/><rect x="1.8" y="1.8" width="6" height="4.6" fill="#d7cac5"/><rect width="9.5" height="1.2" fill="#f8f3f3"/><rect width="1.2" height="8" fill="#f8f3f3"/></pattern>
<pattern id="g2" width="8.5" height="10" patternUnits="userSpaceOnUse" patternTransform="rotate(33)"><rect width="8.5" height="10" fill="#e5dbda"/><rect x="1.8" y="1.8" width="5" height="6.6" fill="#d8cbc6"/><rect width="8.5" height="1.2" fill="#f8f3f3"/><rect width="1.2" height="10" fill="#f8f3f3"/></pattern>
<pattern id="g3" width="11" height="6.5" patternUnits="userSpaceOnUse" patternTransform="rotate(62)"><rect width="11" height="6.5" fill="#e5dbda"/><rect x="1.6" y="1.6" width="8" height="3.5" fill="#d8ccc7"/><rect width="11" height="1.1" fill="#f8f3f3"/><rect width="1.1" height="6.5" fill="#f8f3f3"/></pattern>
<pattern id="trees" width="26" height="22" patternUnits="userSpaceOnUse"><path d="M5 6a1.6 2.2 0 1 0 0.1 0M9 6a1.6 2.2 0 1 0 0.1 0M5 10v2M9 10v2M18 17a1.6 2.2 0 1 0 0.1 0M22 17a1.6 2.2 0 1 0 0.1 0M18 21v1M22 21v1" fill="none" stroke="#a3bd93" stroke-width="0.7"/></pattern>
<clipPath id="mapclip"><rect x="31.4" y="186.3" width="883.3" height="340.1" rx="3"/></clipPath>
</defs>
<filter id="mb" x="0" y="0" width="1" height="1"><feGaussianBlur stdDeviation="0.45"/></filter>
<g clip-path="url(#mapclip)"><g filter="url(#mb)">
<rect x="31" y="186" width="885" height="342" fill="#e5dbda"/>
<rect x="31" y="186" width="885" height="341" fill="url(#g1)" opacity="0.8"/>
<path d="M31.0 350.0 L200.0 350.0 L240.0 455.0 L290.0 527.0 L31.0 527.0Z" fill="url(#g2)" opacity="0.8"/>
<path d="M450.0 420.0 L560.0 420.0 L560.0 527.0 L450.0 527.0Z" fill="url(#g2)" opacity="0.8"/>
<path d="M690.0 186.0 L830.0 186.0 L830.0 380.0 L745.0 380.0 L745.0 290.0 L690.0 240.0Z" fill="url(#g3)" opacity="0.8"/>
<path d="M845.0 290.0 L915.0 290.0 L915.0 450.0 L870.0 450.0 L845.0 380.0Z" fill="url(#g2)" opacity="0.8"/>
<path d="M30.0 242.0 L50.7 250.6 L74.9 261.0 L102.5 274.8 L126.7 295.5 L150.8 305.8 L171.6 323.1 L188.8 340.4 L185.4 355.0 L150.8 355.0 L140.5 340.4 L112.9 333.5 L73.2 323.1 L30.0 319.6Z" fill="#dfead0"/>
<path d="M74.9 271.3 L102.5 278.2 L106.0 292.0 L81.8 295.5 L73.2 285.1Z" fill="#f0e9d3"/>
<path d="M99.0 295.5 L119.8 298.9 L116.3 316.2 L99.0 312.7Z" fill="#f0e9d3"/>
<path d="M149.1 309.3 L168.1 319.6 L166.4 340.4 L149.1 333.5Z" fill="#f0e9d3"/>
<path d="M134.8 355.0 L206.4 355.0 L208.1 372.5 L204.6 388.2 L176.7 381.2 L138.3 369.0Z" fill="#f0e9d3"/>
<path d="M87.6 355.0 L112.1 355.0 L120.8 365.5 L120.8 407.4 L113.8 459.8 L92.9 459.8 L99.8 407.4 L89.4 389.9Z" fill="#d4e6c4"/>
<path d="M45.7 424.8 L64.9 421.4 L70.2 438.8 L59.7 459.8 L45.7 452.8Z" fill="#bcd2ab"/>
<path d="M30.0 466.8 L64.9 477.2 L103.3 475.5 L106.8 527.0 L30.0 527.0Z" fill="#d9e8c9"/>
<path d="M117.3 480.7 L130.4 480.7 L130.4 496.4 L117.3 496.4Z" fill="#b8cfa8"/>
<path d="M134.8 501.7 L197.6 482.5 L208.1 527.0 L124.3 527.0Z" fill="#e8d8df" opacity="0.7"/>
<path d="M845.0 186.0 L915.0 186.0 L915.0 262.0 L850.0 262.0Z" fill="#e8d6e2" opacity="0.8"/>
<path d="M828.0 186.0 L915.0 186.0 L915.0 200.0 L835.0 198.0Z" fill="#efd2d2"/>
<path d="M432.2 207.4 L458.1 204.0 L463.3 228.2 L444.3 231.6Z" fill="#e6d3e0" opacity="0.8"/>
<path d="M31.0 186.0 L403.0 186.0 L396.0 215.0 L392.0 250.0 L377.0 280.0 L368.0 300.0 L377.0 318.0 L372.0 330.0 L355.0 320.0 L330.0 308.0 L306.0 302.0 L289.0 301.0 L268.0 309.0 L246.0 332.0 L220.0 346.0 L203.0 347.0 L188.0 341.0 L172.0 338.0 L150.0 318.0 L128.0 298.0 L112.0 290.0 L100.0 274.0 L76.0 262.0 L52.0 251.0 L31.0 244.0Z" fill="#b9cfa8"/>
<path d="M31.0 186.0 L403.0 186.0 L396.0 215.0 L392.0 250.0 L377.0 280.0 L368.0 300.0 L377.0 318.0 L372.0 330.0 L355.0 320.0 L330.0 308.0 L306.0 302.0 L289.0 301.0 L268.0 309.0 L246.0 332.0 L220.0 346.0 L203.0 347.0 L188.0 341.0 L172.0 338.0 L150.0 318.0 L128.0 298.0 L112.0 290.0 L100.0 274.0 L76.0 262.0 L52.0 251.0 L31.0 244.0Z" fill="url(#trees)"/>
<rect x="31" y="186" width="6.5" height="70" fill="#efe6d2" opacity="0.85"/>
<path d="M394.2 217.8 L432.2 224.7 L432.2 257.5 L423.6 288.6 L416.7 323.1 L401.1 336.9 L371.8 324.8 L378.7 304.1 L368.3 290.3 L377.0 281.7 L389.0 257.5 L392.5 236.8Z" fill="#d1e8c7"/>
<path d="M160.0 272.0 L182.0 262.0 L200.0 258.0 L210.0 268.0 L198.0 280.0 L189.0 290.0 L186.0 308.0 L172.0 296.0 L160.0 282.0Z" fill="#c4d8b2"/>
<path d="M139.0 263.3 L150.0 268.5 L160.0 270.5 L170.0 268.0 L179.0 264.0 L183.0 252.0 L186.5 242.3 L194.0 240.0 L201.8 240.4 L207.0 248.0 L211.3 257.6 L213.5 266.0 L212.0 273.5 L200.0 281.0 L190.3 288.0 L188.0 300.0 L186.5 314.7 L176.0 305.0 L167.5 295.6 L152.0 279.0Z" fill="none" stroke="#a3899c" stroke-width="2.2" opacity="0.85" stroke-linejoin="round"/>
<path d="M513.8 355.0 C519.1 355.0 537.4 351.5 545.2 355.0 C553.1 358.5 553.1 367.2 561.0 376.0 C568.8 384.7 585.4 398.7 592.4 407.4 C599.4 416.1 604.6 423.1 602.9 428.3 C601.1 433.6 588.9 438.2 581.9 438.8 C574.9 439.4 567.1 436.2 561.0 431.8 C554.9 427.5 551.1 419.6 545.2 412.6 C539.4 405.6 531.0 396.9 526.0 389.9 C521.1 382.9 517.6 376.5 515.6 370.7 C513.5 364.9 514.1 357.6 513.8 355.0" fill="#c2d8b0"/>
<path d="M597.0 452.0 L612.0 441.0 L637.0 434.0 L664.0 425.0 L685.0 409.0 L706.0 390.0 L716.0 385.0 L755.0 382.0 L790.0 380.0 L842.0 382.0 L858.0 390.0 L872.0 407.0 L877.0 418.0 L856.0 432.0 L866.0 444.0 L873.0 462.0 L862.0 482.0 L872.0 492.0 L886.0 468.0 L893.0 447.0 L915.0 443.0 L915.0 527.0 L716.0 527.0 L712.0 514.0 L690.0 516.0 L680.0 527.0 L648.0 527.0 L632.0 505.0 L614.0 480.0Z" fill="#b9cfa8"/>
<path d="M597.0 452.0 L612.0 441.0 L637.0 434.0 L664.0 425.0 L685.0 409.0 L706.0 390.0 L716.0 385.0 L755.0 382.0 L790.0 380.0 L842.0 382.0 L858.0 390.0 L872.0 407.0 L877.0 418.0 L856.0 432.0 L866.0 444.0 L873.0 462.0 L862.0 482.0 L872.0 492.0 L886.0 468.0 L893.0 447.0 L915.0 443.0 L915.0 527.0 L716.0 527.0 L712.0 514.0 L690.0 516.0 L680.0 527.0 L648.0 527.0 L632.0 505.0 L614.0 480.0Z" fill="url(#trees)"/>
<path d="M847.2 393.4 L859.5 389.9 L875.2 409.1 L859.5 421.4 L856.0 407.4Z" fill="#cfe3bf"/>
<path d="M718.0 355.0 L789.6 355.0 L807.1 362.0 L779.1 372.5 L737.2 374.2 L712.8 367.2Z" fill="#d1e8c7"/>
<path d="M632.5 398.7 L688.3 377.7 L712.8 381.2 L667.4 403.9 L632.5 414.4Z" fill="#d1e8c7"/>
<path d="M725.5 338.6 L758.3 328.3 L770.4 355.0 L725.5 355.0Z" fill="#d1e8c7"/>
<rect x="758" y="353" width="18" height="11" fill="#b4dcc7"/>
<rect x="683" y="200" width="10" height="7" fill="#cfe6c5"/>
<rect x="700" y="255" width="9" height="9" fill="#cfe6c5"/>
<rect x="640" y="195" width="8" height="10" fill="#cfe6c5"/>
<rect x="590" y="330" width="8" height="8" fill="#cfe6c5"/>
<rect x="476" y="300" width="10" height="7" fill="#cfe6c5"/>
<rect x="505" y="395" width="10" height="8" fill="#cfe6c5"/>
<rect x="575" y="290" width="9" height="7" fill="#cfe6c5"/>
<rect x="330" y="470" width="7" height="9" fill="#cfe6c5"/>
<rect x="862" y="330" width="8" height="14" fill="#cfe6c5"/>
<rect x="880" y="395" width="9" height="9" fill="#cfe6c5"/>
<rect x="895" y="340" width="10" height="8" fill="#cfe6c5"/>
<rect x="742" y="215" width="10" height="8" fill="#cfe6c5"/>
<rect x="405" y="200" width="8" height="8" fill="#cfe6c5"/>
<rect x="340" y="415" width="8" height="8" fill="#cfe6c5"/>
<rect x="470" y="465" width="12" height="9" fill="#cfe6c5"/>
<rect x="465" y="500" width="10" height="10" fill="#cfe6c5"/>
<rect x="655" y="280" width="10" height="8" fill="#cfe6c5"/>
<rect x="668" y="260" width="9" height="8" fill="#cfe6c5"/>
<rect x="690" y="330" width="8" height="7" fill="#cfe6c5"/>
<rect x="810" y="300" width="10" height="10" fill="#cfe6c5"/>
<rect x="745" y="206" width="10" height="8" fill="#f3edc6"/>
<rect x="795" y="240" width="7" height="9" fill="#f3edc6"/>
<rect x="808" y="238" width="6" height="8" fill="#f3edc6"/>
<rect x="797" y="303" width="9" height="8" fill="#f3edc6"/>
<rect x="430" y="400" width="14" height="8" fill="#f3edc6"/>
<rect x="895" y="295" width="9" height="10" fill="#f3edc6"/>
<rect x="900" y="365" width="10" height="8" fill="#f3edc6"/>
<rect x="468" y="395" width="9" height="7" fill="#f3edc6"/>
<rect x="535" y="450" width="8" height="8" fill="#f3edc6"/>
<rect x="650" y="280" width="14" height="16" fill="#d3c6c0"/>
<rect x="665" y="300" width="10" height="12" fill="#d3c6c0"/>
<rect x="75" y="372" width="12" height="14" fill="#d3c6c0"/>
<rect x="125" y="395" width="10" height="10" fill="#d3c6c0"/>
<rect x="218" y="500" width="20" height="14" fill="#d3c6c0"/>
<rect x="560" y="205" width="14" height="6" fill="#d3c6c0"/>
<rect x="780" y="195" width="12" height="10" fill="#d3c6c0"/>
<rect x="805" y="215" width="12" height="8" fill="#d3c6c0"/>
<rect x="845" y="215" width="14" height="10" fill="#d3c6c0"/>
<rect x="233" y="380" width="10" height="8" fill="#d3c6c0"/>
<path d="M719.8 412.6 C725.6 411.7 743.0 411.2 754.7 407.4 C766.3 403.6 776.5 394.0 789.6 389.9 C802.7 385.8 822.2 381.2 833.3 382.9 C844.3 384.7 852.2 397.5 856.0 400.4" fill="none" stroke="#e2a090" stroke-width="0.8" stroke-dasharray="1.6 1.6" opacity="0.75"/>
<path d="M730.2 424.8 C736.1 423.7 755.3 416.7 765.2 417.9 C775.1 419.0 779.7 430.1 789.6 431.8 C799.5 433.6 812.9 430.1 824.5 428.3 C836.2 426.6 853.6 422.5 859.5 421.4" fill="none" stroke="#e2a090" stroke-width="0.8" stroke-dasharray="1.6 1.6" opacity="0.75"/>
<path d="M679.6 468.5 C686.3 465.9 707.3 456.6 719.8 452.8 C732.3 449.0 743.0 445.8 754.7 445.8 C766.3 445.8 778.0 453.9 789.6 452.8 C801.3 451.6 812.9 442.9 824.5 438.8 C836.2 434.7 853.6 430.1 859.5 428.3" fill="none" stroke="#e2a090" stroke-width="0.8" stroke-dasharray="1.6 1.6" opacity="0.75"/>
<path d="M690.1 480.7 C695.0 480.1 710.2 475.5 719.8 477.2 C729.4 479.0 739.0 490.0 747.7 491.2 C756.4 492.4 762.3 484.2 772.2 484.2 C782.0 484.2 795.4 490.6 807.1 491.2 C818.7 491.8 831.8 487.1 842.0 487.7 C852.2 488.3 863.8 493.5 868.2 494.7" fill="none" stroke="#e2a090" stroke-width="0.8" stroke-dasharray="1.6 1.6" opacity="0.75"/>
<path d="M737.2 527.0 C739.0 523.9 741.9 512.9 747.7 508.7 C753.5 504.4 765.2 501.1 772.2 501.7 C779.1 502.3 786.1 507.9 789.6 512.2 C793.1 516.4 792.5 524.5 793.1 527.0" fill="none" stroke="#e2a090" stroke-width="0.8" stroke-dasharray="1.6 1.6" opacity="0.75"/>
<path d="M800.1 527.0 C801.3 523.4 801.5 510.0 807.1 505.2 C812.6 500.4 824.5 497.0 833.3 498.2 C842.0 499.3 852.2 507.3 859.5 512.2 C866.7 517.0 874.0 524.5 876.9 527.0" fill="none" stroke="#e2a090" stroke-width="0.8" stroke-dasharray="1.6 1.6" opacity="0.75"/>
<path d="M726.8 400.4 C730.2 402.7 744.8 409.1 747.7 414.4 C750.6 419.6 741.3 427.2 744.2 431.8 C747.1 436.5 761.7 440.6 765.2 442.3" fill="none" stroke="#e2a090" stroke-width="0.8" stroke-dasharray="1.6 1.6" opacity="0.75"/>
<path d="M142.2 202.3 C146.5 204.0 158.0 212.0 168.1 212.6 C178.2 213.2 191.1 208.6 202.6 205.7 C214.1 202.8 225.6 197.7 237.1 195.4 C248.7 193.1 265.9 192.5 271.7 191.9" fill="none" stroke="#e2a090" stroke-width="0.8" stroke-dasharray="1.6 1.6" opacity="0.75"/>
<path d="M161.2 236.8 C165.2 238.5 175.6 244.3 185.4 247.1 C195.1 250.0 208.4 255.2 219.9 254.0 C231.4 252.9 242.9 244.8 254.4 240.2 C265.9 235.6 277.4 229.9 288.9 226.4 C300.4 223.0 317.7 220.7 323.5 219.5" fill="none" stroke="#e2a090" stroke-width="0.8" stroke-dasharray="1.6 1.6" opacity="0.75"/>
<path d="M185.4 305.8 C189.7 304.1 202.6 295.5 211.3 295.5 C219.9 295.5 230.0 306.4 237.1 305.8 C244.3 305.3 251.5 294.3 254.4 292.0" fill="none" stroke="#e2a090" stroke-width="0.8" stroke-dasharray="1.6 1.6" opacity="0.75"/>
<path d="M202.6 224.7 C206.9 226.7 219.9 236.2 228.5 236.8 C237.1 237.4 245.8 228.2 254.4 228.2 C263.0 228.2 276.0 235.3 280.3 236.8" fill="none" stroke="#e2a090" stroke-width="0.8" stroke-dasharray="1.6 1.6" opacity="0.75"/>
<path d="M320.0 242.0 C323.5 243.4 335.0 251.5 340.7 250.6 C346.5 249.7 348.5 237.9 354.5 236.8 C360.6 235.6 371.8 246.6 377.0 243.7 C382.1 240.8 384.2 223.6 385.6 219.5" fill="none" stroke="#e2a090" stroke-width="0.8" stroke-dasharray="1.6 1.6" opacity="0.75"/>
<path d="M330.4 274.8 C333.8 275.9 345.3 282.8 351.1 281.7 C356.8 280.5 360.6 267.9 364.9 267.9 C369.2 267.9 375.0 279.4 377.0 281.7" fill="none" stroke="#e2a090" stroke-width="0.8" stroke-dasharray="1.6 1.6" opacity="0.75"/>
<path d="M371.8 288.6 C374.7 287.4 382.7 281.7 389.0 281.7 C395.4 281.7 405.2 284.5 409.8 288.6 C414.4 292.6 417.8 300.7 416.7 305.8 C415.5 311.0 405.2 317.3 402.9 319.6" fill="none" stroke="#e2a090" stroke-width="0.8" stroke-dasharray="1.6 1.6" opacity="0.75"/>
<path d="M392.5 236.8 C395.4 237.9 404.6 243.7 409.8 243.7 C414.9 243.7 421.3 237.9 423.6 236.8" fill="none" stroke="#e2a090" stroke-width="0.8" stroke-dasharray="1.6 1.6" opacity="0.75"/>
<path d="M64.5 202.3 C68.0 205.1 78.9 213.8 85.2 219.5 C91.6 225.3 100.8 230.5 102.5 236.8 C104.2 243.1 96.7 254.0 95.6 257.5" fill="none" stroke="#e2a090" stroke-width="0.8" stroke-dasharray="1.6 1.6" opacity="0.75"/>
<path d="M499.9 355.0 C500.1 359.2 500.7 371.3 501.0 380.0 C501.3 388.7 501.2 397.8 501.6 407.0 C502.0 416.2 501.1 427.8 503.3 435.0 C505.5 442.2 510.6 445.8 515.0 450.0 C519.4 454.2 524.2 454.8 529.5 460.0 C534.8 465.2 542.8 473.8 547.0 481.0 C551.2 488.2 554.5 495.3 555.0 503.0 C555.5 510.7 550.8 523.0 550.0 527.0" fill="none" stroke="#abcad8" stroke-width="3.2" stroke-linecap="round" stroke-linejoin="round"/>
<path d="M499.5 355.0 C499.5 352.8 497.8 345.8 499.5 342.0 C501.2 338.2 505.4 335.0 510.0 332.0 C514.6 329.0 521.3 325.8 527.0 324.0 C532.7 322.2 538.2 321.5 544.0 321.0 C549.8 320.5 556.2 320.3 562.0 321.0 C567.8 321.7 573.7 323.0 579.0 325.0 C584.3 327.0 589.7 330.5 594.0 333.0 C598.3 335.5 600.7 338.0 605.0 340.0 C609.3 342.0 614.2 344.5 620.0 345.0 C625.8 345.5 633.3 343.8 640.0 343.0 C646.7 342.2 654.7 341.7 660.0 340.0 C665.3 338.3 667.4 338.2 672.0 333.0 C676.6 327.8 681.2 314.8 687.5 309.0 C693.8 303.2 702.0 301.4 710.0 298.0 C718.0 294.6 724.3 292.8 735.8 288.6 C747.3 284.4 768.1 276.4 779.0 273.0 C789.9 269.6 793.8 268.7 801.0 268.0 C808.2 267.3 815.7 267.6 822.0 269.0 C828.3 270.4 835.2 273.2 839.0 276.5 C842.8 279.8 843.7 286.6 844.6 288.6" fill="none" stroke="#abcad8" stroke-width="4.0" stroke-linecap="round" stroke-linejoin="round"/>
<path d="M844.6 288.6 C846.6 287.7 852.5 285.3 856.7 283.4 C860.9 281.5 865.5 278.4 870.0 277.0 C874.5 275.6 879.0 275.2 884.0 275.0 C889.0 274.8 895.3 274.8 900.0 276.0 C904.7 277.2 909.5 279.7 912.0 282.0 C914.5 284.3 914.5 288.7 915.0 290.0" fill="none" stroke="#abcad8" stroke-width="4.0" stroke-linecap="round" stroke-linejoin="round"/>
<path d="M844.6 288.6 C843.2 290.5 838.0 296.6 836.0 300.0 C834.0 303.4 832.8 305.7 832.5 309.0 C832.2 312.3 833.8 316.8 834.0 320.0 C834.2 323.2 834.7 324.3 834.0 328.0 C833.3 331.7 832.0 337.0 830.0 342.0 C828.0 347.0 826.2 354.0 822.0 358.0 C817.8 362.0 810.4 363.9 805.0 366.0 C799.6 368.1 797.9 369.4 789.6 370.7 C781.3 372.0 766.6 372.8 755.0 374.0 C743.4 375.2 729.0 375.7 719.8 377.7 C710.6 379.7 705.8 383.1 700.0 386.0 C694.2 388.9 691.5 391.3 684.8 395.0 C678.1 398.7 668.7 403.6 660.0 408.0 C651.3 412.4 640.0 418.3 632.5 421.4 C625.0 424.5 620.6 422.5 615.0 426.6 C609.4 430.7 603.5 440.2 599.0 445.8 C594.5 451.4 591.4 455.4 588.0 460.0 C584.6 464.6 582.1 468.7 578.4 473.7 C574.7 478.7 569.8 485.1 566.0 490.0 C562.2 494.9 557.4 501.2 555.7 503.4" fill="none" stroke="#abcad8" stroke-width="4.0" stroke-linecap="round" stroke-linejoin="round"/>
<path d="M137.0 195.4 C139.9 195.1 148.2 192.2 154.3 193.6 C160.3 195.1 166.4 200.8 173.3 204.0 C180.2 207.2 186.5 210.6 195.7 212.6 C204.9 214.6 217.9 214.5 228.5 216.1 C239.2 217.7 254.4 221.1 259.6 222.1" fill="none" stroke="#b5d0dc" stroke-width="1.6" opacity="0.9"/>
<path d="M709.3 393.4 C711.3 396.6 719.8 407.4 721.5 412.6 C723.3 417.9 718.3 421.1 719.8 424.8 C721.2 428.6 728.5 433.6 730.2 435.3" fill="none" stroke="#b5d0dc" stroke-width="1.4" opacity="0.9"/>
<path d="M768.7 465.0 C764.0 465.6 747.7 465.9 740.7 468.5 C733.7 471.1 730.0 476.4 726.8 480.7 C723.6 485.1 721.8 490.0 721.5 494.7 C721.2 499.3 725.0 503.3 725.0 508.7 C725.0 514.0 722.1 523.9 721.5 527.0" fill="none" stroke="#b5d0dc" stroke-width="1.6" opacity="0.9"/>
<path d="M30.0 466.8 C35.8 468.2 52.4 476.1 64.9 475.5 C77.4 474.9 92.9 465.6 105.1 463.3 C117.3 460.9 127.8 460.9 138.3 461.5 C148.7 462.1 161.8 464.1 167.9 466.8 C174.1 469.4 173.5 472.6 174.9 477.2 C176.4 481.9 173.2 491.2 176.7 494.7 C180.2 498.2 192.7 497.6 195.9 498.2" fill="none" stroke="#b5d0dc" stroke-width="1.2" opacity="0.9"/>
<path d="M99.8 372.5 C103.3 371.3 112.1 365.5 120.8 365.5 C129.5 365.5 142.6 369.8 152.2 372.5 C161.8 375.1 169.7 378.6 178.4 381.2 C187.2 383.8 200.2 387.0 204.6 388.2" fill="none" stroke="#b5d0dc" stroke-width="1.2" opacity="0.9"/>
<path d="M35.2 267.9 L52.4 281.7 L76.6 283.4 L111.1 288.6 L116.3 309.3 L140.5 314.5 L143.9 336.9 L171.6 336.9" fill="none" stroke="#b5d0dc" stroke-width="1" opacity="0.9"/>
<path d="M68.4 355.0 C69.0 360.8 69.6 377.7 71.9 389.9 C74.2 402.1 77.7 415.5 82.4 428.3 C87.0 441.1 95.8 455.7 99.8 466.8 C103.9 477.8 104.8 484.6 106.8 494.7 C108.9 504.7 111.2 521.6 112.1 527.0" fill="none" stroke="#f8f3f3" stroke-width="2.2" stroke-linecap="round" stroke-linejoin="round"/>
<path d="M30.0 386.4 C37.0 386.7 56.8 388.2 71.9 388.2 C87.0 388.2 107.4 384.4 120.8 386.4 C134.2 388.5 141.2 395.7 152.2 400.4 C163.3 405.1 181.3 412.0 187.2 414.4" fill="none" stroke="#f8f3f3" stroke-width="1.8" stroke-linecap="round" stroke-linejoin="round"/>
<path d="M30.0 487.7 C38.1 488.0 66.1 490.6 78.9 489.5 C91.7 488.3 94.6 482.8 106.8 480.7 C119.1 478.7 144.7 477.8 152.2 477.2" fill="none" stroke="#f8f3f3" stroke-width="2.0" stroke-linecap="round" stroke-linejoin="round"/>
<path d="M204.6 487.7 C209.3 486.5 223.8 484.2 232.5 480.7 C241.3 477.2 252.9 469.1 257.0 466.8" fill="none" stroke="#f8f3f3" stroke-width="2.2" stroke-linecap="round" stroke-linejoin="round"/>
<path d="M187.2 466.8 C190.1 471.4 200.2 484.6 204.6 494.7 C209.0 504.7 211.9 521.6 213.3 527.0" fill="none" stroke="#f8f3f3" stroke-width="2.0" stroke-linecap="round" stroke-linejoin="round"/>
<path d="M30.0 323.1 C33.5 324.5 45.0 328.0 50.7 331.7 C56.5 335.5 61.4 341.7 64.5 345.5 C67.7 349.4 68.8 353.5 69.7 355.0" fill="none" stroke="#f8f3f3" stroke-width="2.0" stroke-linecap="round" stroke-linejoin="round"/>
<path d="M54.2 330.0 C57.6 324.2 71.1 305.8 74.9 295.5 C78.6 285.1 73.2 278.2 76.6 267.9 C80.1 257.5 89.0 242.3 95.6 233.3 C102.2 224.4 112.9 217.5 116.3 214.3" fill="none" stroke="#d9d3dc" stroke-width="1.2" stroke-linecap="round" stroke-linejoin="round"/>
<path d="M615.0 433.6 C620.8 433.3 637.7 435.3 649.9 431.8 C662.1 428.3 677.3 420.5 688.3 412.6 C699.4 404.8 711.6 389.3 716.3 384.7" fill="none" stroke="#f8f3f3" stroke-width="2.6" stroke-linecap="round" stroke-linejoin="round"/>
<path d="M625.5 459.8 C627.2 457.4 629.0 447.8 636.0 445.8 C642.9 443.8 658.4 448.1 667.4 447.5 C676.4 447.0 685.1 445.2 690.1 442.3 C695.0 439.4 694.4 431.5 697.1 430.1 C699.7 428.6 700.3 431.8 705.8 433.6 C711.3 435.3 726.2 439.4 730.2 440.6" fill="none" stroke="#f8f3f3" stroke-width="1.6" stroke-linecap="round" stroke-linejoin="round"/>
<path d="M862.9 382.9 C864.7 387.0 868.2 401.6 873.4 407.4 C878.7 413.2 887.5 413.5 894.4 417.9 C901.3 422.2 911.5 431.0 915.0 433.6" fill="none" stroke="#f8f3f3" stroke-width="2.4" stroke-linecap="round" stroke-linejoin="round"/>
<path d="M894.4 417.9 C892.1 420.8 883.9 428.3 880.4 435.3 C876.9 442.3 875.2 450.5 873.4 459.8 C871.7 469.1 870.5 486.0 869.9 491.2" fill="none" stroke="#f8f3f3" stroke-width="1.6" stroke-linecap="round" stroke-linejoin="round"/>
<path d="M635.7 267.9 C636.3 265.0 635.7 256.1 639.2 250.6 C642.6 245.1 648.9 237.6 656.4 235.1 C663.9 232.5 676.0 233.9 684.0 235.1 C692.1 236.2 701.3 240.8 704.8 242.0" fill="none" stroke="#f8f3f3" stroke-width="2.0" stroke-linecap="round" stroke-linejoin="round"/>
<path d="M742.7 323.1 C747.3 319.4 761.7 303.5 770.4 300.7 C779.0 297.8 785.9 302.1 794.5 305.8 C803.2 309.6 817.5 320.2 822.1 323.1" fill="none" stroke="#f8f3f3" stroke-width="1.8" stroke-linecap="round" stroke-linejoin="round"/>
<path d="M734.1 247.1 C739.0 245.7 754.5 239.7 763.5 238.5 C772.4 237.4 781.9 236.8 787.6 240.2 C793.4 243.7 796.3 256.1 798.0 259.2" fill="none" stroke="#f8f3f3" stroke-width="1.6" stroke-linecap="round" stroke-linejoin="round"/>
<path d="M863.6 295.5 L908.5 295.5 L908.5 355.0" fill="none" stroke="#f8f3f3" stroke-width="2.0" stroke-linecap="round" stroke-linejoin="round"/>
<path d="M829.1 190.2 C836.5 190.5 859.6 191.9 873.9 191.9 C888.3 191.9 908.2 190.5 915.0 190.2" fill="none" stroke="#f8f3f3" stroke-width="3.0" stroke-linecap="round" stroke-linejoin="round"/>
<path d="M216.4 261.0 C217.9 263.3 220.2 273.0 225.1 274.8 C230.0 276.5 241.2 269.6 245.8 271.3 C250.4 273.0 249.5 286.0 252.7 285.1 C255.8 284.3 259.3 267.3 264.8 266.1 C270.2 265.0 278.6 276.2 285.5 278.2 C292.4 280.2 302.7 278.2 306.2 278.2" fill="none" stroke="#f8f3f3" stroke-width="1.2" stroke-linecap="round" stroke-linejoin="round"/>
<path d="M266.5 274.8 L266.5 305.8" fill="none" stroke="#f8f3f3" stroke-width="1.2" stroke-linecap="round" stroke-linejoin="round"/>
<path d="M500.0 219.0 L560.0 216.0 L700.0 220.0 L700.0 231.0 L560.0 234.0 L500.0 230.0Z" fill="#b8b2b1" opacity="0.75"/>
<path d="M846.0 196.0 L915.0 200.0 L915.0 222.0 L850.0 222.0Z" fill="#c9c2c2" opacity="0.6"/>
<path d="M915.0 225.6 L800.0 226.0 L700.0 226.0 L615.0 226.4 L527.0 226.0 L492.0 226.0" fill="none" stroke="#6f6b6b" stroke-width="3.4"/>
<path d="M915.0 225.6 L800.0 226.0 L700.0 226.0 L615.0 226.4 L527.0 226.0 L492.0 226.0" fill="none" stroke="#e9e4e3" stroke-width="2.1" stroke-dasharray="4.5 4.5"/>
<path d="M700.0 222.0 L527.0 221.0" fill="none" stroke="#7d7978" stroke-width="2.0"/>
<path d="M700.0 222.0 L527.0 221.0" fill="none" stroke="#e9e4e3" stroke-width="0.7" stroke-dasharray="4.5 4.5"/>
<path d="M700.0 230.0 L527.0 231.0" fill="none" stroke="#7d7978" stroke-width="2.0"/>
<path d="M700.0 230.0 L527.0 231.0" fill="none" stroke="#e9e4e3" stroke-width="0.7" stroke-dasharray="4.5 4.5"/>
<path d="M492.0 226.0 C487.8 227.2 475.5 229.0 467.0 233.0 C458.5 237.0 447.2 243.7 441.0 250.0 C434.8 256.3 432.9 263.2 430.0 271.0 C427.1 278.8 426.1 289.7 423.6 297.0 C421.1 304.3 417.9 309.2 415.0 315.0 C412.1 320.8 408.7 328.0 406.0 332.0 C403.3 336.0 400.2 337.8 399.0 339.0" fill="none" stroke="#747070" stroke-width="2.8"/>
<path d="M492.0 226.0 C487.8 227.2 475.5 229.0 467.0 233.0 C458.5 237.0 447.2 243.7 441.0 250.0 C434.8 256.3 432.9 263.2 430.0 271.0 C427.1 278.8 426.1 289.7 423.6 297.0 C421.1 304.3 417.9 309.2 415.0 315.0 C412.1 320.8 408.7 328.0 406.0 332.0 C403.3 336.0 400.2 337.8 399.0 339.0" fill="none" stroke="#e9e4e3" stroke-width="1.5" stroke-dasharray="4.5 4.5"/>
<path d="M399.0 339.0 L372.0 360.0 L320.0 386.4 L237.8 437.0 L169.7 477.0 L113.8 515.6 L99.8 527.0" fill="none" stroke="#747070" stroke-width="2.8"/>
<path d="M399.0 339.0 L372.0 360.0 L320.0 386.4 L237.8 437.0 L169.7 477.0 L113.8 515.6 L99.8 527.0" fill="none" stroke="#e9e4e3" stroke-width="1.5" stroke-dasharray="4.5 4.5"/>
<path d="M500.0 226.0 C496.7 225.0 485.8 223.0 480.0 220.0 C474.2 217.0 468.7 211.8 465.0 208.0 C461.3 204.2 459.7 200.7 458.0 197.0 C456.3 193.3 455.5 187.8 455.0 186.0" fill="none" stroke="#7d7978" stroke-width="2.0"/>
<path d="M500.0 226.0 C496.7 225.0 485.8 223.0 480.0 220.0 C474.2 217.0 468.7 211.8 465.0 208.0 C461.3 204.2 459.7 200.7 458.0 197.0 C456.3 193.3 455.5 187.8 455.0 186.0" fill="none" stroke="#e9e4e3" stroke-width="0.7" stroke-dasharray="4.5 4.5"/>
<path d="M687.5 227.3 C690.9 229.8 701.7 236.1 708.0 242.0 C714.3 247.9 720.6 255.8 725.5 262.7 C730.4 269.6 734.4 276.2 737.6 283.4 C740.8 290.6 743.6 299.2 744.5 305.8 C745.4 312.4 744.7 317.2 742.7 323.0 C740.7 328.8 736.7 335.1 732.4 340.4 C728.1 345.7 721.8 349.6 716.8 355.0 C711.8 360.4 706.2 366.7 702.3 372.5 C698.4 378.3 699.4 383.3 693.6 390.0 C687.8 396.7 677.6 406.8 667.4 412.6 C657.2 418.4 641.2 421.9 632.5 424.8 C623.8 427.7 620.5 427.1 615.0 430.0 C609.5 432.9 603.6 437.3 599.4 442.3 C595.2 447.3 591.2 454.2 590.0 460.0 C588.8 465.8 590.8 468.5 592.4 477.2 C594.0 485.9 596.1 503.7 599.4 512.0 C602.7 520.3 609.9 524.5 612.0 527.0" fill="none" stroke="#7d7978" stroke-width="1.8"/>
<path d="M687.5 227.3 C690.9 229.8 701.7 236.1 708.0 242.0 C714.3 247.9 720.6 255.8 725.5 262.7 C730.4 269.6 734.4 276.2 737.6 283.4 C740.8 290.6 743.6 299.2 744.5 305.8 C745.4 312.4 744.7 317.2 742.7 323.0 C740.7 328.8 736.7 335.1 732.4 340.4 C728.1 345.7 721.8 349.6 716.8 355.0 C711.8 360.4 706.2 366.7 702.3 372.5 C698.4 378.3 699.4 383.3 693.6 390.0 C687.8 396.7 677.6 406.8 667.4 412.6 C657.2 418.4 641.2 421.9 632.5 424.8 C623.8 427.7 620.5 427.1 615.0 430.0 C609.5 432.9 603.6 437.3 599.4 442.3 C595.2 447.3 591.2 454.2 590.0 460.0 C588.8 465.8 590.8 468.5 592.4 477.2 C594.0 485.9 596.1 503.7 599.4 512.0 C602.7 520.3 609.9 524.5 612.0 527.0" fill="none" stroke="#e9e4e3" stroke-width="0.6" stroke-dasharray="4.5 4.5"/>
<path d="M850.0 205.0 C855.0 205.3 869.2 205.5 880.0 207.0 C890.8 208.5 909.2 212.8 915.0 214.0" fill="none" stroke="#7d7978" stroke-width="1.5"/>
<path d="M515.0 212.0 L620.0 212.0 L648.0 211.0" fill="none" stroke="#ddd79a" stroke-width="4.1" stroke-linecap="round" stroke-linejoin="round"/>
<path d="M458.0 256.0 C460.8 258.3 469.2 265.4 475.0 270.0 C480.8 274.6 486.8 280.4 492.6 283.4 C498.4 286.4 504.3 286.6 510.0 288.0 C515.7 289.4 521.0 289.7 527.0 292.0 C533.0 294.3 537.2 299.8 546.0 302.0 C554.8 304.2 567.7 304.1 580.0 305.0 C592.3 305.9 611.3 307.1 620.0 307.6 C628.7 308.1 630.0 307.9 632.0 308.0" fill="none" stroke="#ddd79a" stroke-width="4.2" stroke-linecap="round" stroke-linejoin="round"/>
<path d="M501.0 240.0 L497.0 262.0 L492.0 283.0" fill="none" stroke="#ddd79a" stroke-width="3.9" stroke-linecap="round" stroke-linejoin="round"/>
<path d="M558.0 250.0 C557.0 254.3 554.0 267.3 552.0 276.0 C550.0 284.7 546.5 293.0 546.0 302.0 C545.5 311.0 548.4 321.2 549.0 330.0 C549.6 338.8 549.9 347.5 549.6 355.0 C549.3 362.5 547.8 367.7 547.0 375.0 C546.2 382.3 545.9 391.9 545.0 398.7 C544.1 405.5 542.3 413.1 541.8 416.0" fill="none" stroke="#ddd79a" stroke-width="3.5" stroke-linecap="round" stroke-linejoin="round"/>
<path d="M446.0 283.0 C444.3 288.8 439.7 306.0 436.0 318.0 C432.3 330.0 426.9 346.0 423.6 355.0 C420.3 364.0 418.4 366.7 416.0 372.0 C413.6 377.3 410.2 384.5 409.0 387.0" fill="none" stroke="#ddd79a" stroke-width="3.5" stroke-linecap="round" stroke-linejoin="round"/>
<path d="M823.9 186.0 C825.3 188.7 829.9 192.1 832.5 202.0 C835.1 211.9 838.0 234.4 839.4 245.4 C840.8 256.4 841.6 259.3 841.0 267.9 C840.4 276.5 838.6 289.2 836.0 297.0 C833.4 304.8 827.1 308.7 825.6 314.5 C824.1 320.3 827.9 324.9 827.3 331.7 C826.7 338.4 823.3 347.9 822.0 355.0 C820.7 362.1 819.8 371.0 819.3 374.2" fill="none" stroke="#ddd79a" stroke-width="3.7" stroke-linecap="round" stroke-linejoin="round"/>
<path d="M637.7 364.6 C648.5 364.9 682.8 365.0 702.3 366.3 C721.8 367.6 735.2 371.1 754.7 372.5 C774.2 373.9 800.4 374.0 819.3 375.0 C838.2 376.0 852.2 377.1 868.2 378.6 C884.2 380.1 907.2 382.9 915.0 383.8" fill="none" stroke="#ddd79a" stroke-width="3.9" stroke-linecap="round" stroke-linejoin="round"/>
<path d="M137.0 186.0 C135.0 188.3 127.9 195.3 125.0 200.0 C122.1 204.7 119.5 207.6 119.8 214.3 C120.1 221.0 123.8 232.1 126.7 240.2 C129.6 248.3 131.2 253.5 137.0 262.7 C142.8 271.9 154.6 286.0 161.2 295.5 C167.8 305.0 172.1 312.1 176.7 319.6 C181.3 327.1 186.8 336.9 188.8 340.4" fill="none" stroke="#ddd79a" stroke-width="3.5" stroke-linecap="round" stroke-linejoin="round"/>
<path d="M401.0 340.0 L415.0 350.0 L430.0 356.0" fill="none" stroke="#ddd79a" stroke-width="3.5" stroke-linecap="round" stroke-linejoin="round"/>
<path d="M527.0 292.0 L522.0 283.0 L510.0 280.0 L497.0 283.0" fill="none" stroke="#ddd79a" stroke-width="3.1" stroke-linecap="round" stroke-linejoin="round"/>
<path d="M410.0 186.0 L432.0 218.0 L458.0 254.0" fill="none" stroke="#e9b585" stroke-width="4.6" stroke-linecap="round" stroke-linejoin="round"/>
<path d="M120.8 527.0 L204.6 473.7 L239.5 452.8 L330.0 419.6" fill="none" stroke="#e9b585" stroke-width="5.7" stroke-linecap="round" stroke-linejoin="round"/>
<path d="M407.0 387.0 C415.2 389.4 441.4 398.2 456.0 401.3 C470.6 404.4 483.8 404.3 494.6 405.6 C505.4 406.9 512.1 405.8 520.8 409.0 C529.5 412.2 537.4 418.7 547.0 424.8 C556.6 430.9 569.7 437.7 578.4 445.8 C587.1 453.9 592.5 463.8 599.4 473.7 C606.3 483.6 614.5 497.7 620.0 505.0 C625.5 512.3 628.3 513.7 632.5 517.4 C636.7 521.1 642.9 525.4 645.0 527.0" fill="none" stroke="#e9b585" stroke-width="4.6" stroke-linecap="round" stroke-linejoin="round"/>
<path d="M578.4 445.8 C582.0 443.5 593.1 436.4 600.0 432.0 C606.9 427.6 615.2 423.7 620.0 419.6 C624.8 415.5 626.0 413.8 629.0 407.4 C632.0 401.0 636.5 389.7 637.7 381.0 C638.9 372.3 637.0 370.4 636.0 355.0 C635.0 339.6 632.6 306.6 631.4 288.6 C630.2 270.6 629.2 253.9 628.8 247.0" fill="none" stroke="#e9b585" stroke-width="4.6" stroke-linecap="round" stroke-linejoin="round"/>
<path d="M407.0 387.0 C404.7 383.3 395.5 371.2 393.0 365.0 C390.5 358.8 390.7 354.1 392.0 350.0 C393.3 345.9 395.7 347.2 401.0 340.4 C406.3 333.6 416.4 319.1 423.6 309.3 C430.8 299.5 438.6 290.3 444.3 281.7 C450.0 273.1 453.7 263.6 458.0 257.5 C462.3 251.4 465.4 248.6 470.0 245.4 C474.6 242.2 479.0 239.7 485.7 238.5 C492.4 237.3 487.6 237.9 510.0 238.5 C532.4 239.1 599.7 240.4 620.0 242.0 C640.3 243.6 630.0 247.0 632.0 248.0" fill="none" stroke="#e9b585" stroke-width="4.8" stroke-linecap="round" stroke-linejoin="round"/>
<path d="M673.7 186.0 L659.9 210.9 L647.8 212.0 L647.8 236.8 L640.9 248.9 L632.0 249.0" fill="none" stroke="#e9b585" stroke-width="4.4" stroke-linecap="round" stroke-linejoin="round"/>
<path d="M632.3 316.2 L684.0 304.0 L735.8 283.4 L796.3 261.8 L804.9 261.0 L839.4 265.3 L915.0 263.5" fill="none" stroke="#e9b585" stroke-width="4.6" stroke-linecap="round" stroke-linejoin="round"/>
<path d="M520.0 186.0 L512.0 215.0 L506.0 240.0" fill="none" stroke="#e9b585" stroke-width="4.6" stroke-linecap="round" stroke-linejoin="round"/>
<path d="M454.5 402.0 C453.6 407.3 450.8 424.0 449.0 433.6 C447.2 443.2 444.7 444.2 444.0 459.8 C443.3 475.4 444.7 515.8 444.8 527.0" fill="none" stroke="#e9b585" stroke-width="4.4" stroke-linecap="round" stroke-linejoin="round"/>
<path d="M31.0 500.0 L45.0 512.0 L60.0 527.0" fill="none" stroke="#e9b585" stroke-width="3.5" stroke-linecap="round" stroke-linejoin="round"/>
<path d="M515.0 212.0 L620.0 212.0 L648.0 211.0" fill="none" stroke="#f6f0b4" stroke-width="3.2" stroke-linecap="round" stroke-linejoin="round"/>
<path d="M458.0 256.0 C460.8 258.3 469.2 265.4 475.0 270.0 C480.8 274.6 486.8 280.4 492.6 283.4 C498.4 286.4 504.3 286.6 510.0 288.0 C515.7 289.4 521.0 289.7 527.0 292.0 C533.0 294.3 537.2 299.8 546.0 302.0 C554.8 304.2 567.7 304.1 580.0 305.0 C592.3 305.9 611.3 307.1 620.0 307.6 C628.7 308.1 630.0 307.9 632.0 308.0" fill="none" stroke="#f6f0b4" stroke-width="3.3" stroke-linecap="round" stroke-linejoin="round"/>
<path d="M501.0 240.0 L497.0 262.0 L492.0 283.0" fill="none" stroke="#f6f0b4" stroke-width="3.0" stroke-linecap="round" stroke-linejoin="round"/>
<path d="M558.0 250.0 C557.0 254.3 554.0 267.3 552.0 276.0 C550.0 284.7 546.5 293.0 546.0 302.0 C545.5 311.0 548.4 321.2 549.0 330.0 C549.6 338.8 549.9 347.5 549.6 355.0 C549.3 362.5 547.8 367.7 547.0 375.0 C546.2 382.3 545.9 391.9 545.0 398.7 C544.1 405.5 542.3 413.1 541.8 416.0" fill="none" stroke="#f6f0b4" stroke-width="2.6" stroke-linecap="round" stroke-linejoin="round"/>
<path d="M446.0 283.0 C444.3 288.8 439.7 306.0 436.0 318.0 C432.3 330.0 426.9 346.0 423.6 355.0 C420.3 364.0 418.4 366.7 416.0 372.0 C413.6 377.3 410.2 384.5 409.0 387.0" fill="none" stroke="#f6f0b4" stroke-width="2.6" stroke-linecap="round" stroke-linejoin="round"/>
<path d="M823.9 186.0 C825.3 188.7 829.9 192.1 832.5 202.0 C835.1 211.9 838.0 234.4 839.4 245.4 C840.8 256.4 841.6 259.3 841.0 267.9 C840.4 276.5 838.6 289.2 836.0 297.0 C833.4 304.8 827.1 308.7 825.6 314.5 C824.1 320.3 827.9 324.9 827.3 331.7 C826.7 338.4 823.3 347.9 822.0 355.0 C820.7 362.1 819.8 371.0 819.3 374.2" fill="none" stroke="#f6f0b4" stroke-width="2.8" stroke-linecap="round" stroke-linejoin="round"/>
<path d="M637.7 364.6 C648.5 364.9 682.8 365.0 702.3 366.3 C721.8 367.6 735.2 371.1 754.7 372.5 C774.2 373.9 800.4 374.0 819.3 375.0 C838.2 376.0 852.2 377.1 868.2 378.6 C884.2 380.1 907.2 382.9 915.0 383.8" fill="none" stroke="#f6f0b4" stroke-width="3.0" stroke-linecap="round" stroke-linejoin="round"/>
<path d="M137.0 186.0 C135.0 188.3 127.9 195.3 125.0 200.0 C122.1 204.7 119.5 207.6 119.8 214.3 C120.1 221.0 123.8 232.1 126.7 240.2 C129.6 248.3 131.2 253.5 137.0 262.7 C142.8 271.9 154.6 286.0 161.2 295.5 C167.8 305.0 172.1 312.1 176.7 319.6 C181.3 327.1 186.8 336.9 188.8 340.4" fill="none" stroke="#f6f0b4" stroke-width="2.6" stroke-linecap="round" stroke-linejoin="round"/>
<path d="M401.0 340.0 L415.0 350.0 L430.0 356.0" fill="none" stroke="#f6f0b4" stroke-width="2.6" stroke-linecap="round" stroke-linejoin="round"/>
<path d="M527.0 292.0 L522.0 283.0 L510.0 280.0 L497.0 283.0" fill="none" stroke="#f6f0b4" stroke-width="2.2" stroke-linecap="round" stroke-linejoin="round"/>
<path d="M410.0 186.0 L432.0 218.0 L458.0 254.0" fill="none" stroke="#f8cb9d" stroke-width="3.7" stroke-linecap="round" stroke-linejoin="round"/>
<path d="M120.8 527.0 L204.6 473.7 L239.5 452.8 L330.0 419.6" fill="none" stroke="#f8cb9d" stroke-width="4.8" stroke-linecap="round" stroke-linejoin="round"/>
<path d="M407.0 387.0 C415.2 389.4 441.4 398.2 456.0 401.3 C470.6 404.4 483.8 404.3 494.6 405.6 C505.4 406.9 512.1 405.8 520.8 409.0 C529.5 412.2 537.4 418.7 547.0 424.8 C556.6 430.9 569.7 437.7 578.4 445.8 C587.1 453.9 592.5 463.8 599.4 473.7 C606.3 483.6 614.5 497.7 620.0 505.0 C625.5 512.3 628.3 513.7 632.5 517.4 C636.7 521.1 642.9 525.4 645.0 527.0" fill="none" stroke="#f8cb9d" stroke-width="3.7" stroke-linecap="round" stroke-linejoin="round"/>
<path d="M578.4 445.8 C582.0 443.5 593.1 436.4 600.0 432.0 C606.9 427.6 615.2 423.7 620.0 419.6 C624.8 415.5 626.0 413.8 629.0 407.4 C632.0 401.0 636.5 389.7 637.7 381.0 C638.9 372.3 637.0 370.4 636.0 355.0 C635.0 339.6 632.6 306.6 631.4 288.6 C630.2 270.6 629.2 253.9 628.8 247.0" fill="none" stroke="#f8cb9d" stroke-width="3.7" stroke-linecap="round" stroke-linejoin="round"/>
<path d="M407.0 387.0 C404.7 383.3 395.5 371.2 393.0 365.0 C390.5 358.8 390.7 354.1 392.0 350.0 C393.3 345.9 395.7 347.2 401.0 340.4 C406.3 333.6 416.4 319.1 423.6 309.3 C430.8 299.5 438.6 290.3 444.3 281.7 C450.0 273.1 453.7 263.6 458.0 257.5 C462.3 251.4 465.4 248.6 470.0 245.4 C474.6 242.2 479.0 239.7 485.7 238.5 C492.4 237.3 487.6 237.9 510.0 238.5 C532.4 239.1 599.7 240.4 620.0 242.0 C640.3 243.6 630.0 247.0 632.0 248.0" fill="none" stroke="#f8cb9d" stroke-width="3.9" stroke-linecap="round" stroke-linejoin="round"/>
<path d="M673.7 186.0 L659.9 210.9 L647.8 212.0 L647.8 236.8 L640.9 248.9 L632.0 249.0" fill="none" stroke="#f8cb9d" stroke-width="3.5" stroke-linecap="round" stroke-linejoin="round"/>
<path d="M632.3 316.2 L684.0 304.0 L735.8 283.4 L796.3 261.8 L804.9 261.0 L839.4 265.3 L915.0 263.5" fill="none" stroke="#f8cb9d" stroke-width="3.7" stroke-linecap="round" stroke-linejoin="round"/>
<path d="M520.0 186.0 L512.0 215.0 L506.0 240.0" fill="none" stroke="#f8cb9d" stroke-width="3.7" stroke-linecap="round" stroke-linejoin="round"/>
<path d="M454.5 402.0 C453.6 407.3 450.8 424.0 449.0 433.6 C447.2 443.2 444.7 444.2 444.0 459.8 C443.3 475.4 444.7 515.8 444.8 527.0" fill="none" stroke="#f8cb9d" stroke-width="3.5" stroke-linecap="round" stroke-linejoin="round"/>
<path d="M31.0 500.0 L45.0 512.0 L60.0 527.0" fill="none" stroke="#f8cb9d" stroke-width="2.6" stroke-linecap="round" stroke-linejoin="round"/>
<path d="M188.5 338.7 L194.6 344.8 L214.1 350.9 L226.3 347.3 L243.4 333.9 L260.4 315.6 L267.7 309.5 L294.5 301.0 L306.7 301.7 L326.2 309.5 L350.6 319.2 L370.1 324.1 L374.9 329.0 L398.1 338.7 L400.5 341.2 L392.0 350.9 L389.6 363.1 L394.4 375.3 L398.1 383.8 L409.0 386.2 L404.2 394.8 L409.0 404.5 L423.7 436.2 L438.3 470.3 L446.8 470.3 L446.8 514.2 L441.9 514.2 L439.5 510.5 L423.7 511.7 L421.2 516.6 L374.9 525.1 L372.5 530.0 L287.2 530.0 L284.8 525.1 L279.9 509.3 L277.5 494.7 L271.4 470.3 L265.3 464.2 L245.8 464.2 L240.9 455.7 L239.7 438.6 L232.4 424.0 L226.3 409.4 L223.9 392.3 L221.4 375.3 L219.0 363.1 L211.7 354.6Z" fill="#f29c9c" fill-opacity="0.82" stroke="#198519" stroke-width="2.2" stroke-linejoin="round"/>
<path d="M188.0 340.0 L198.0 350.0 L207.0 356.0 L216.0 364.0 L219.0 371.0 L220.5 380.0 L222.0 395.0 L224.0 407.0 L229.0 416.0 L233.0 422.0 L238.0 437.0 L241.0 455.0 L247.0 463.0 L262.0 466.5" fill="none" stroke="#198519" stroke-width="3.4" stroke-linejoin="round" stroke-linecap="round"/>
<path d="M264.0 467.0 L271.0 474.0 L278.0 498.0 L281.0 512.0 L283.0 527.0" fill="none" stroke="#198519" stroke-width="2.6" stroke-linejoin="round"/>
<clipPath id="rp"><path d="M188.5 338.7 L194.6 344.8 L214.1 350.9 L226.3 347.3 L243.4 333.9 L260.4 315.6 L267.7 309.5 L294.5 301.0 L306.7 301.7 L326.2 309.5 L350.6 319.2 L370.1 324.1 L374.9 329.0 L398.1 338.7 L400.5 341.2 L392.0 350.9 L389.6 363.1 L394.4 375.3 L398.1 383.8 L409.0 386.2 L404.2 394.8 L409.0 404.5 L423.7 436.2 L438.3 470.3 L446.8 470.3 L446.8 514.2 L441.9 514.2 L439.5 510.5 L423.7 511.7 L421.2 516.6 L374.9 525.1 L372.5 530.0 L287.2 530.0 L284.8 525.1 L279.9 509.3 L277.5 494.7 L271.4 470.3 L265.3 464.2 L245.8 464.2 L240.9 455.7 L239.7 438.6 L232.4 424.0 L226.3 409.4 L223.9 392.3 L221.4 375.3 L219.0 363.1 L211.7 354.6Z"/></clipPath>
<g clip-path="url(#rp)">
<path d="M90.0 290 L195.0 530" stroke="#f9cfcf" stroke-width="0.9" opacity="0.5"/>
<path d="M99.0 290 L204.0 530" stroke="#f9cfcf" stroke-width="0.9" opacity="0.5"/>
<path d="M108.0 290 L213.0 530" stroke="#f9cfcf" stroke-width="0.9" opacity="0.5"/>
<path d="M117.0 290 L222.0 530" stroke="#f9cfcf" stroke-width="0.9" opacity="0.5"/>
<path d="M126.0 290 L231.0 530" stroke="#f9cfcf" stroke-width="0.9" opacity="0.5"/>
<path d="M135.0 290 L240.0 530" stroke="#f9cfcf" stroke-width="0.9" opacity="0.5"/>
<path d="M144.0 290 L249.0 530" stroke="#f9cfcf" stroke-width="0.9" opacity="0.5"/>
<path d="M153.0 290 L258.0 530" stroke="#f9cfcf" stroke-width="0.9" opacity="0.5"/>
<path d="M162.0 290 L267.0 530" stroke="#f9cfcf" stroke-width="0.9" opacity="0.5"/>
<path d="M171.0 290 L276.0 530" stroke="#f9cfcf" stroke-width="0.9" opacity="0.5"/>
<path d="M180.0 290 L285.0 530" stroke="#f9cfcf" stroke-width="0.9" opacity="0.5"/>
<path d="M189.0 290 L294.0 530" stroke="#f9cfcf" stroke-width="0.9" opacity="0.5"/>
<path d="M198.0 290 L303.0 530" stroke="#f9cfcf" stroke-width="0.9" opacity="0.5"/>
<path d="M207.0 290 L312.0 530" stroke="#f9cfcf" stroke-width="0.9" opacity="0.5"/>
<path d="M216.0 290 L321.0 530" stroke="#f9cfcf" stroke-width="0.9" opacity="0.5"/>
<path d="M225.0 290 L330.0 530" stroke="#f9cfcf" stroke-width="0.9" opacity="0.5"/>
<path d="M234.0 290 L339.0 530" stroke="#f9cfcf" stroke-width="0.9" opacity="0.5"/>
<path d="M243.0 290 L348.0 530" stroke="#f9cfcf" stroke-width="0.9" opacity="0.5"/>
<path d="M252.0 290 L357.0 530" stroke="#f9cfcf" stroke-width="0.9" opacity="0.5"/>
<path d="M261.0 290 L366.0 530" stroke="#f9cfcf" stroke-width="0.9" opacity="0.5"/>
<path d="M270.0 290 L375.0 530" stroke="#f9cfcf" stroke-width="0.9" opacity="0.5"/>
<path d="M279.0 290 L384.0 530" stroke="#f9cfcf" stroke-width="0.9" opacity="0.5"/>
<path d="M288.0 290 L393.0 530" stroke="#f9cfcf" stroke-width="0.9" opacity="0.5"/>
<path d="M297.0 290 L402.0 530" stroke="#f9cfcf" stroke-width="0.9" opacity="0.5"/>
<path d="M306.0 290 L411.0 530" stroke="#f9cfcf" stroke-width="0.9" opacity="0.5"/>
<path d="M315.0 290 L420.0 530" stroke="#f9cfcf" stroke-width="0.9" opacity="0.5"/>
<path d="M324.0 290 L429.0 530" stroke="#f9cfcf" stroke-width="0.9" opacity="0.5"/>
<path d="M333.0 290 L438.0 530" stroke="#f9cfcf" stroke-width="0.9" opacity="0.5"/>
<path d="M342.0 290 L447.0 530" stroke="#f9cfcf" stroke-width="0.9" opacity="0.5"/>
<path d="M351.0 290 L456.0 530" stroke="#f9cfcf" stroke-width="0.9" opacity="0.5"/>
<path d="M360.0 290 L465.0 530" stroke="#f9cfcf" stroke-width="0.9" opacity="0.5"/>
<path d="M369.0 290 L474.0 530" stroke="#f9cfcf" stroke-width="0.9" opacity="0.5"/>
<path d="M378.0 290 L483.0 530" stroke="#f9cfcf" stroke-width="0.9" opacity="0.5"/>
<path d="M387.0 290 L492.0 530" stroke="#f9cfcf" stroke-width="0.9" opacity="0.5"/>
<path d="M396.0 290 L501.0 530" stroke="#f9cfcf" stroke-width="0.9" opacity="0.5"/>
<path d="M405.0 290 L510.0 530" stroke="#f9cfcf" stroke-width="0.9" opacity="0.5"/>
<path d="M414.0 290 L519.0 530" stroke="#f9cfcf" stroke-width="0.9" opacity="0.5"/>
<path d="M423.0 290 L528.0 530" stroke="#f9cfcf" stroke-width="0.9" opacity="0.5"/>
<path d="M432.0 290 L537.0 530" stroke="#f9cfcf" stroke-width="0.9" opacity="0.5"/>
<path d="M441.0 290 L546.0 530" stroke="#f9cfcf" stroke-width="0.9" opacity="0.5"/>
<path d="M450.0 290 L555.0 530" stroke="#f9cfcf" stroke-width="0.9" opacity="0.5"/>
<path d="M459.0 290 L564.0 530" stroke="#f9cfcf" stroke-width="0.9" opacity="0.5"/>
<path d="M468.0 290 L573.0 530" stroke="#f9cfcf" stroke-width="0.9" opacity="0.5"/>
<path d="M477.0 290 L582.0 530" stroke="#f9cfcf" stroke-width="0.9" opacity="0.5"/>
<path d="M486.0 290 L591.0 530" stroke="#f9cfcf" stroke-width="0.9" opacity="0.5"/>
<path d="M495.0 290 L600.0 530" stroke="#f9cfcf" stroke-width="0.9" opacity="0.5"/>
<path d="M504.0 290 L609.0 530" stroke="#f9cfcf" stroke-width="0.9" opacity="0.5"/>
<path d="M513.0 290 L618.0 530" stroke="#f9cfcf" stroke-width="0.9" opacity="0.5"/>
<path d="M522.0 290 L627.0 530" stroke="#f9cfcf" stroke-width="0.9" opacity="0.5"/>
<path d="M531.0 290 L636.0 530" stroke="#f9cfcf" stroke-width="0.9" opacity="0.5"/>
<path d="M180 260.0 L460 137.0" stroke="#f9cfcf" stroke-width="0.9" opacity="0.5"/>
<path d="M180 270.0 L460 147.0" stroke="#f9cfcf" stroke-width="0.9" opacity="0.5"/>
<path d="M180 280.0 L460 157.0" stroke="#f9cfcf" stroke-width="0.9" opacity="0.5"/>
<path d="M180 290.0 L460 167.0" stroke="#f9cfcf" stroke-width="0.9" opacity="0.5"/>
<path d="M180 300.0 L460 177.0" stroke="#f9cfcf" stroke-width="0.9" opacity="0.5"/>
<path d="M180 310.0 L460 187.0" stroke="#f9cfcf" stroke-width="0.9" opacity="0.5"/>
<path d="M180 320.0 L460 197.0" stroke="#f9cfcf" stroke-width="0.9" opacity="0.5"/>
<path d="M180 330.0 L460 207.0" stroke="#f9cfcf" stroke-width="0.9" opacity="0.5"/>
<path d="M180 340.0 L460 217.0" stroke="#f9cfcf" stroke-width="0.9" opacity="0.5"/>
<path d="M180 350.0 L460 227.0" stroke="#f9cfcf" stroke-width="0.9" opacity="0.5"/>
<path d="M180 360.0 L460 237.0" stroke="#f9cfcf" stroke-width="0.9" opacity="0.5"/>
<path d="M180 370.0 L460 247.0" stroke="#f9cfcf" stroke-width="0.9" opacity="0.5"/>
<path d="M180 380.0 L460 257.0" stroke="#f9cfcf" stroke-width="0.9" opacity="0.5"/>
<path d="M180 390.0 L460 267.0" stroke="#f9cfcf" stroke-width="0.9" opacity="0.5"/>
<path d="M180 400.0 L460 277.0" stroke="#f9cfcf" stroke-width="0.9" opacity="0.5"/>
<path d="M180 410.0 L460 287.0" stroke="#f9cfcf" stroke-width="0.9" opacity="0.5"/>
<path d="M180 420.0 L460 297.0" stroke="#f9cfcf" stroke-width="0.9" opacity="0.5"/>
<path d="M180 430.0 L460 307.0" stroke="#f9cfcf" stroke-width="0.9" opacity="0.5"/>
<path d="M180 440.0 L460 317.0" stroke="#f9cfcf" stroke-width="0.9" opacity="0.5"/>
<path d="M180 450.0 L460 327.0" stroke="#f9cfcf" stroke-width="0.9" opacity="0.5"/>
<path d="M180 460.0 L460 337.0" stroke="#f9cfcf" stroke-width="0.9" opacity="0.5"/>
<path d="M180 470.0 L460 347.0" stroke="#f9cfcf" stroke-width="0.9" opacity="0.5"/>
<path d="M180 480.0 L460 357.0" stroke="#f9cfcf" stroke-width="0.9" opacity="0.5"/>
<path d="M180 490.0 L460 367.0" stroke="#f9cfcf" stroke-width="0.9" opacity="0.5"/>
<path d="M180 500.0 L460 377.0" stroke="#f9cfcf" stroke-width="0.9" opacity="0.5"/>
<path d="M180 510.0 L460 387.0" stroke="#f9cfcf" stroke-width="0.9" opacity="0.5"/>
<path d="M180 520.0 L460 397.0" stroke="#f9cfcf" stroke-width="0.9" opacity="0.5"/>
<path d="M180 530.0 L460 407.0" stroke="#f9cfcf" stroke-width="0.9" opacity="0.5"/>
<path d="M180 540.0 L460 417.0" stroke="#f9cfcf" stroke-width="0.9" opacity="0.5"/>
<path d="M180 550.0 L460 427.0" stroke="#f9cfcf" stroke-width="0.9" opacity="0.5"/>
<path d="M180 560.0 L460 437.0" stroke="#f9cfcf" stroke-width="0.9" opacity="0.5"/>
<path d="M180 570.0 L460 447.0" stroke="#f9cfcf" stroke-width="0.9" opacity="0.5"/>
<path d="M180 580.0 L460 457.0" stroke="#f9cfcf" stroke-width="0.9" opacity="0.5"/>
<path d="M180 590.0 L460 467.0" stroke="#f9cfcf" stroke-width="0.9" opacity="0.5"/>
<path d="M180 600.0 L460 477.0" stroke="#f9cfcf" stroke-width="0.9" opacity="0.5"/>
<path d="M180 610.0 L460 487.0" stroke="#f9cfcf" stroke-width="0.9" opacity="0.5"/>
<path d="M180 620.0 L460 497.0" stroke="#f9cfcf" stroke-width="0.9" opacity="0.5"/>
<path d="M180 630.0 L460 507.0" stroke="#f9cfcf" stroke-width="0.9" opacity="0.5"/>
<path d="M180 640.0 L460 517.0" stroke="#f9cfcf" stroke-width="0.9" opacity="0.5"/>
<path d="M180 650.0 L460 527.0" stroke="#f9cfcf" stroke-width="0.9" opacity="0.5"/>
<path d="M180 660.0 L460 537.0" stroke="#f9cfcf" stroke-width="0.9" opacity="0.5"/>
<path d="M180 670.0 L460 547.0" stroke="#f9cfcf" stroke-width="0.9" opacity="0.5"/>
<path d="M180 680.0 L460 557.0" stroke="#f9cfcf" stroke-width="0.9" opacity="0.5"/>
<path d="M180 690.0 L460 567.0" stroke="#f9cfcf" stroke-width="0.9" opacity="0.5"/>
<path d="M180 700.0 L460 577.0" stroke="#f9cfcf" stroke-width="0.9" opacity="0.5"/>
<path d="M362.7 353.4 L389.6 350.9 L392.0 382.6 L372.5 392.3Z" fill="#e58f8f" opacity="0.7"/>
<path d="M221.4 368.0 L238.5 365.5 L240.9 394.8 L223.9 394.8Z" fill="#e58f8f" opacity="0.7"/>
<path d="M299.4 502.0 L323.8 502.0 L326.2 521.5 L297.0 521.5Z" fill="#e58f8f" opacity="0.7"/>
<path d="M216.5 353.4 L228.7 348.5 L232.4 363.1 L222.6 366.8Z" fill="#e58f8f" opacity="0.7"/>
<path d="M240.9 336.3 L250.7 331.4 L253.1 348.5 L244.6 350.9Z" fill="#e58f8f" opacity="0.7"/>
</g>
<path d="M240.9 451.3 L323.8 418.4 L372.5 395.3 L398.1 384.5 L407.8 386.2" fill="none" stroke="#f7a683" stroke-width="5"/>
<path d="M394.4 338.7 L400.5 341.2 L392.5 350.9 L390.0 363.1 L394.4 375.3 L398.1 383.8 L394.4 383.8 L388.3 368.0 L388.3 350.9Z" fill="#f4a27e"/>
<path d="M438.8 470.8 L446.8 470.8 L446.8 514.2 L441.9 514.2Z" fill="#f4a27e"/>
<path d="M194.6 345.6 L214.1 351.4 L226.3 348.0 L243.4 334.8 L260.4 316.8" fill="none" stroke="#f0b08c" stroke-width="2.5"/>
<path d="M240.9 436.2 L394.4 341.2" fill="none" stroke="#9a8a86" stroke-width="1.6"/>
<path d="M240.1 435.0 L393.7 339.9" fill="none" stroke="#198a19" stroke-width="1.2" stroke-linejoin="round"/>
<path d="M241.7 437.4 L395.2 342.4" fill="none" stroke="#198a19" stroke-width="1.2" stroke-linejoin="round"/>
<path d="M240.2 449.5 L323.0 416.6 L371.7 393.5 L397.3 382.7" fill="none" stroke="#198a19" stroke-width="1.2" stroke-linejoin="round"/>
<path d="M241.6 453.1 L324.5 420.2 L373.3 397.0 L398.8 386.3" fill="none" stroke="#198a19" stroke-width="1.2" stroke-linejoin="round"/>
<path d="M268.6 310.3 L288.1 350.5 L295.4 367.6" fill="none" stroke="#198a19" stroke-width="1.2" stroke-linejoin="round"/>
<path d="M266.8 311.1 L286.3 351.3 L293.6 368.4" fill="none" stroke="#198a19" stroke-width="1.2" stroke-linejoin="round"/>
<path d="M302.9 367.4 L317.5 396.7 L337.1 435.7 L349.3 470.0 L351.8 492.1 L356.6 529.9" fill="none" stroke="#198a19" stroke-width="1.3" stroke-linejoin="round"/>
<path d="M300.7 368.5 L315.4 397.8 L334.8 436.7 L346.9 470.6 L349.4 492.4 L354.2 530.2" fill="none" stroke="#198a19" stroke-width="1.3" stroke-linejoin="round"/>
<path d="M227.2 348.2 L241.8 394.4 L254.0 418.8 L261.3 440.8 L267.4 464.0" fill="none" stroke="#198a19" stroke-width="1.2" stroke-linejoin="round"/>
<path d="M225.4 348.8 L240.0 395.1 L252.2 419.5 L259.5 441.3 L265.6 464.5" fill="none" stroke="#198a19" stroke-width="1.2" stroke-linejoin="round"/>
<path d="M245.8 353.4 L277.5 338.7 L297.0 329.0 L293.3 303.4" fill="none" stroke="#198a19" stroke-width="1.2" stroke-linejoin="round"/>
<path d="M287.2 350.9 L316.5 335.1 L326.2 310.7" fill="none" stroke="#198a19" stroke-width="1.2" stroke-linejoin="round"/>
<path d="M252.8 384.4 L294.3 367.3 L313.8 360.0 L338.0 352.7 L372.1 329.6" fill="none" stroke="#198a19" stroke-width="1.2" stroke-linejoin="round"/>
<path d="M253.4 385.7 L294.8 368.7 L314.2 361.4 L338.7 354.0 L372.9 330.8" fill="none" stroke="#198a19" stroke-width="1.2" stroke-linejoin="round"/>
<path d="M254.0 386.0 L262.6 415.2" fill="none" stroke="#198a19" stroke-width="1.2" stroke-linejoin="round"/>
<path d="M252.2 386.5 L260.7 415.8" fill="none" stroke="#198a19" stroke-width="1.2" stroke-linejoin="round"/>
<path d="M261.6 416.7 L253.1 420.4" fill="none" stroke="#198a19" stroke-width="1.2" stroke-linejoin="round"/>
<path d="M340.8 344.8 L350.6 320.5" fill="none" stroke="#198a19" stroke-width="1.2" stroke-linejoin="round"/>
<path d="M271.4 463.2 L314.1 463.3 L348.1 470.6 L386.8 462.1 L406.0 447.6 L420.6 435.5" fill="none" stroke="#198a19" stroke-width="1.3" stroke-linejoin="round"/>
<path d="M271.4 465.2 L313.9 465.2 L348.1 472.5 L387.5 463.9 L407.2 449.1 L421.9 436.9" fill="none" stroke="#198a19" stroke-width="1.3" stroke-linejoin="round"/>
<path d="M265.1 457.2 L335.6 440.2 L406.2 408.5" fill="none" stroke="#198a19" stroke-width="1.2" stroke-linejoin="round"/>
<path d="M265.5 459.1 L336.3 442.0 L407.0 410.3" fill="none" stroke="#198a19" stroke-width="1.2" stroke-linejoin="round"/>
<path d="M272.6 470.3 L348.1 472.3 L433.4 463.0" fill="none" stroke="#198a19" stroke-width="1.3" stroke-linejoin="round"/>
<path d="M279.9 497.1 L348.1 488.6 L392.0 477.6 L438.3 470.8" fill="none" stroke="#198a19" stroke-width="1.3" stroke-linejoin="round"/>
<path d="M348.1 471.5 L350.6 492.2" fill="none" stroke="#198a19" stroke-width="1.6" stroke-linejoin="round"/>
<path d="M211.7 354.6 L219.0 363.1 L238.5 360.7 L250.7 368.0 L240.9 370.4 L232.4 363.1" fill="none" stroke="#198a19" stroke-width="1.2" stroke-linejoin="round"/>
<path d="M221.4 394.8 L238.5 394.8" fill="none" stroke="#198a19" stroke-width="1.2" stroke-linejoin="round"/>
<path d="M232.4 421.6 L250.7 421.6" fill="none" stroke="#198a19" stroke-width="1.2" stroke-linejoin="round"/>
<path d="M272.6 316.8 L278.7 314.4 L277.5 308.3" fill="none" stroke="#198a19" stroke-width="1.2" stroke-linejoin="round"/>
<path d="M277.5 331.4 L294.5 329.0" fill="none" stroke="#198a19" stroke-width="1.2" stroke-linejoin="round"/>
<path d="M304.3 314.4 L311.6 311.9 L312.8 316.8 L307.9 320.5 L304.3 314.4" fill="none" stroke="#198a19" stroke-width="1.2" stroke-linejoin="round"/>
<path d="M267.7 380.2 L277.5 377.7 L278.7 385.0 L270.2 387.5 L267.7 380.2" fill="none" stroke="#198a19" stroke-width="1.2" stroke-linejoin="round"/>
<path d="M239.7 336.3 L250.7 331.4 L253.1 348.5 L245.8 350.9" fill="none" stroke="#198a19" stroke-width="1.2" stroke-linejoin="round"/>
<path d="M331.1 385.0 L338.4 392.3 L343.3 388.7 L350.6 397.2 L357.9 391.1 L365.2 397.2 L374.9 392.3" fill="none" stroke="#198a19" stroke-width="1.2" stroke-linejoin="round"/>
<path d="M354.2 370.4 L361.5 370.4 L368.8 392.3" fill="none" stroke="#198a19" stroke-width="1.2" stroke-linejoin="round"/>
<path d="M323.8 397.2 L331.1 411.8 L338.4 409.4 L340.8 400.9" fill="none" stroke="#198a19" stroke-width="1.2" stroke-linejoin="round"/>
<path d="M292.1 416.7 L304.3 410.6 L303.1 403.3 L310.4 400.9" fill="none" stroke="#198a19" stroke-width="1.2" stroke-linejoin="round"/>
<path d="M275.0 426.5 L282.3 421.6 L289.6 425.2 L284.8 432.5 L276.2 431.3" fill="none" stroke="#198a19" stroke-width="1.2" stroke-linejoin="round"/>
<path d="M260.4 436.2 L264.1 442.3 L276.2 438.6 L277.5 447.2 L270.2 450.8" fill="none" stroke="#198a19" stroke-width="1.2" stroke-linejoin="round"/>
<path d="M297.0 450.8 L306.7 445.9 L312.8 458.1" fill="none" stroke="#198a19" stroke-width="1.2" stroke-linejoin="round"/>
<path d="M321.3 436.2 L331.1 432.5 L334.7 441.1 L326.2 443.5 L321.3 436.2" fill="none" stroke="#198a19" stroke-width="1.2" stroke-linejoin="round"/>
<path d="M316.5 426.5 L321.3 431.3" fill="none" stroke="#198a19" stroke-width="1.2" stroke-linejoin="round"/>
<path d="M342.0 416.7 L350.6 414.3 L350.6 420.4 L343.3 421.6 L342.0 416.7" fill="none" stroke="#198a19" stroke-width="1.2" stroke-linejoin="round"/>
<path d="M338.4 436.2 L348.1 428.9 L351.8 436.2 L345.7 441.1 L350.6 445.9 L343.3 450.8" fill="none" stroke="#198a19" stroke-width="1.2" stroke-linejoin="round"/>
<path d="M360.3 411.8 L372.5 409.4 L374.9 419.1 L367.6 421.6 L370.1 430.1 L377.4 427.7" fill="none" stroke="#198a19" stroke-width="1.2" stroke-linejoin="round"/>
<path d="M377.4 402.1 L387.1 399.6 L389.6 409.4 L382.2 411.8 L377.4 402.1" fill="none" stroke="#198a19" stroke-width="1.2" stroke-linejoin="round"/>
<path d="M385.9 424.0 L394.4 421.6 L396.9 428.9 L388.3 431.3 L385.9 424.0" fill="none" stroke="#198a19" stroke-width="1.2" stroke-linejoin="round"/>
<path d="M392.0 404.5 L406.6 402.1" fill="none" stroke="#198a19" stroke-width="1.2" stroke-linejoin="round"/>
<path d="M399.3 411.8 L409.0 416.7 L404.2 422.8 L398.1 419.1" fill="none" stroke="#198a19" stroke-width="1.2" stroke-linejoin="round"/>
<path d="M374.9 445.9 L387.1 436.2 L394.4 445.9 L401.7 442.3 L404.2 448.4" fill="none" stroke="#198a19" stroke-width="1.2" stroke-linejoin="round"/>
<path d="M350.6 448.4 L365.2 445.9 L370.1 460.6" fill="none" stroke="#198a19" stroke-width="1.2" stroke-linejoin="round"/>
<path d="M355.4 448.4 L356.7 463.0 L367.6 464.2" fill="none" stroke="#198a19" stroke-width="1.2" stroke-linejoin="round"/>
<path d="M406.6 453.3 L415.1 448.4 L420.0 455.7 L411.5 460.6 L406.6 453.3" fill="none" stroke="#198a19" stroke-width="1.2" stroke-linejoin="round"/>
<path d="M379.8 445.9 L382.2 460.6" fill="none" stroke="#198a19" stroke-width="1.2" stroke-linejoin="round"/>
<path d="M396.9 465.4 L406.6 460.6 L410.3 467.9" fill="none" stroke="#198a19" stroke-width="1.2" stroke-linejoin="round"/>
<path d="M399.3 441.1 C401.7 440.3 409.9 436.8 413.9 436.2 C418.0 435.6 422.0 437.2 423.7 437.4" fill="none" stroke="#198a19" stroke-width="1.3" stroke-linejoin="round"/>
<path d="M288.4 469.1 L294.5 469.1 L295.7 478.8 L289.6 478.8 L288.4 469.1" fill="none" stroke="#198a19" stroke-width="1.2" stroke-linejoin="round"/>
<path d="M301.8 477.6 L312.8 475.2 L315.2 492.2" fill="none" stroke="#198a19" stroke-width="1.2" stroke-linejoin="round"/>
<path d="M301.8 477.6 L304.3 493.5" fill="none" stroke="#198a19" stroke-width="1.2" stroke-linejoin="round"/>
<path d="M322.5 470.3 L323.8 478.8 L332.3 478.8 L333.5 492.2" fill="none" stroke="#198a19" stroke-width="1.2" stroke-linejoin="round"/>
<path d="M370.1 477.6 L377.4 476.4 L378.6 480.1 L371.3 481.3 L370.1 477.6" fill="none" stroke="#198a19" stroke-width="1.2" stroke-linejoin="round"/>
<path d="M374.9 487.4 L383.5 486.2 L384.7 493.5 L413.9 493.5 L415.1 487.4 L431.0 482.5 L433.4 475.2" fill="none" stroke="#198a19" stroke-width="1.2" stroke-linejoin="round"/>
<path d="M431.0 482.5 L433.4 492.2 L438.3 492.2 L438.3 502.0 L441.9 504.4" fill="none" stroke="#198a19" stroke-width="1.2" stroke-linejoin="round"/>
<path d="M384.7 493.5 L392.0 516.6" fill="none" stroke="#198a19" stroke-width="1.2" stroke-linejoin="round"/>
<path d="M333.5 492.2 L334.7 502.0 L340.8 500.8 L342.0 493.5" fill="none" stroke="#198a19" stroke-width="1.2" stroke-linejoin="round"/>
<path d="M370.1 494.7 L374.9 502.0 L372.5 506.9 L378.6 516.6" fill="none" stroke="#198a19" stroke-width="1.2" stroke-linejoin="round"/>
<path d="M365.2 508.1 L372.5 506.9" fill="none" stroke="#198a19" stroke-width="1.2" stroke-linejoin="round"/>
<path d="M365.2 508.1 L368.8 525.1" fill="none" stroke="#198a19" stroke-width="1.2" stroke-linejoin="round"/>
<path d="M279.9 498.3 L284.8 525.1" fill="none" stroke="#198a19" stroke-width="1.2" stroke-linejoin="round"/>
<path d="M293.3 497.1 L297.0 525.1" fill="none" stroke="#198a19" stroke-width="1.2" stroke-linejoin="round"/>
<path d="M322.5 492.2 L326.2 525.1" fill="none" stroke="#198a19" stroke-width="1.2" stroke-linejoin="round"/>
<path d="M297.0 519.0 L326.2 521.5" fill="none" stroke="#198a19" stroke-width="1.2" stroke-linejoin="round"/>
<path d="M327.4 504.4 L348.1 502.0" fill="none" stroke="#198a19" stroke-width="1.2" stroke-linejoin="round"/>
<path d="M340.8 494.7 L344.5 530.0" fill="none" stroke="#198a19" stroke-width="1.2" stroke-linejoin="round"/>
<path d="M423.7 511.7 L392.0 516.6 L357.9 525.1" fill="none" stroke="#198a19" stroke-width="1.2" stroke-linejoin="round"/>
<path d="M240.9 455.7 L250.7 460.6 L258.0 458.1 L260.4 464.2" fill="none" stroke="#198a19" stroke-width="1.2" stroke-linejoin="round"/>
<path d="M243.4 445.9 L253.1 443.5 L255.5 453.3" fill="none" stroke="#198a19" stroke-width="1.2" stroke-linejoin="round"/>
<path d="M316.5 361.9 L323.8 380.2 L328.6 397.2" fill="none" stroke="#198a19" stroke-width="1.2" stroke-linejoin="round"/>
<path d="M326.2 378.9 L335.9 394.8" fill="none" stroke="#198a19" stroke-width="1.2" stroke-linejoin="round"/>
<g clip-path="url(#rp)">
<path d="M328.1 427.6 L331.2 434.3 L324.7 437.3 L321.6 430.6 L328.1 427.6" fill="none" stroke="#198a19" stroke-width="1.1" stroke-linejoin="round"/>
<path d="M396.1 410.3 L400.6 418.8 L397.2 420.6 L392.7 412.1 L396.1 410.3" fill="none" stroke="#198a19" stroke-width="1.1" stroke-linejoin="round"/>
<path d="M249.3 482.4 L256.8 478.9 L259.0 483.6 L251.5 487.1 L249.3 482.4" fill="none" stroke="#198a19" stroke-width="1.1" stroke-linejoin="round"/>
<path d="M385.2 447.4 L387.3 451.3 L382.2 454.0 L380.1 450.1 L385.2 447.4" fill="none" stroke="#198a19" stroke-width="1.1" stroke-linejoin="round"/>
<path d="M268.7 368.0 L277.3 364.0 L278.4 366.2 L274.0 368.2 L275.1 370.4 L270.8 372.4 L268.7 368.0" fill="none" stroke="#198a19" stroke-width="1.1" stroke-linejoin="round"/>
<path d="M270.2 365.5 L277.0 361.9 L279.9 367.5 L273.2 371.1 L270.2 365.5" fill="none" stroke="#198a19" stroke-width="1.1" stroke-linejoin="round"/>
<path d="M286.5 520.7 L294.7 516.9 L296.7 521.3 L288.5 525.1 L286.5 520.7" fill="none" stroke="#198a19" stroke-width="1.1" stroke-linejoin="round"/>
<path d="M289.1 331.7 L295.5 328.7 L298.5 335.2 L292.1 338.2 L289.1 331.7" fill="none" stroke="#198a19" stroke-width="1.1" stroke-linejoin="round"/>
<path d="M423.3 488.4 L428.5 486.0 L431.7 492.8 L426.4 495.2 L423.3 488.4" fill="none" stroke="#198a19" stroke-width="1.1" stroke-linejoin="round"/>
<path d="M312.8 459.1 L314.9 463.5 L312.1 464.8 L311.1 462.6 L308.3 463.9 L307.2 461.7 L312.8 459.1" fill="none" stroke="#198a19" stroke-width="1.1" stroke-linejoin="round"/>
<path d="M286.7 335.6 L290.7 333.5 L293.1 338.1" fill="none" stroke="#198a19" stroke-width="1.1" stroke-linejoin="round"/>
<path d="M259.3 460.1 L263.6 458.1 L266.6 464.3 L262.2 466.4 L259.3 460.1" fill="none" stroke="#198a19" stroke-width="1.1" stroke-linejoin="round"/>
<path d="M341.5 408.6 L351.6 404.5 L354.1 410.8 L344.0 414.9 L341.5 408.6" fill="none" stroke="#198a19" stroke-width="1.1" stroke-linejoin="round"/>
<path d="M309.3 396.6 L313.4 394.9 L316.1 401.6" fill="none" stroke="#198a19" stroke-width="1.1" stroke-linejoin="round"/>
<path d="M350.8 519.9 L356.0 517.5 L358.2 522.2" fill="none" stroke="#198a19" stroke-width="1.1" stroke-linejoin="round"/>
<path d="M360.8 338.5 L366.1 336.3 L367.0 338.4 L364.3 339.5 L365.1 341.6 L362.5 342.7 L360.8 338.5" fill="none" stroke="#198a19" stroke-width="1.1" stroke-linejoin="round"/>
<path d="M298.6 378.2 L303.1 376.2 L304.0 378.1 L301.8 379.2 L302.7 381.1 L300.5 382.2 L298.6 378.2" fill="none" stroke="#198a19" stroke-width="1.1" stroke-linejoin="round"/>
<path d="M240.8 388.8 L244.2 395.3 L237.5 398.8 L234.0 392.3 L240.8 388.8" fill="none" stroke="#198a19" stroke-width="1.1" stroke-linejoin="round"/>
<path d="M346.0 493.9 L353.9 490.7 L355.7 495.1 L347.8 498.3 L346.0 493.9" fill="none" stroke="#198a19" stroke-width="1.1" stroke-linejoin="round"/>
<path d="M352.3 464.2 L360.9 460.7 L363.7 467.7 L355.1 471.2 L352.3 464.2" fill="none" stroke="#198a19" stroke-width="1.1" stroke-linejoin="round"/>
<path d="M426.3 494.6 L428.6 499.0 L425.4 500.7 L423.1 496.3 L426.3 494.6" fill="none" stroke="#198a19" stroke-width="1.1" stroke-linejoin="round"/>
<path d="M340.3 366.6 L342.9 372.1 L339.7 373.6 L338.4 370.8 L335.2 372.3 L333.9 369.6 L340.3 366.6" fill="none" stroke="#198a19" stroke-width="1.1" stroke-linejoin="round"/>
<path d="M291.1 353.3 L295.9 351.1 L297.0 353.6 L294.7 354.7 L295.8 357.2 L293.5 358.3 L291.1 353.3" fill="none" stroke="#198a19" stroke-width="1.1" stroke-linejoin="round"/>
<path d="M353.5 334.2 L363.1 330.3 L364.7 334.3 L355.1 338.2 L353.5 334.2" fill="none" stroke="#198a19" stroke-width="1.1" stroke-linejoin="round"/>
<path d="M286.7 408.3 L291.0 406.3 L292.0 408.4 L289.8 409.4 L290.8 411.5 L288.7 412.5 L286.7 408.3" fill="none" stroke="#198a19" stroke-width="1.1" stroke-linejoin="round"/>
<path d="M424.3 336.2 L433.8 332.4 L435.2 336.0 L430.5 337.9 L431.9 341.5 L427.2 343.4 L424.3 336.2" fill="none" stroke="#198a19" stroke-width="1.1" stroke-linejoin="round"/>
<path d="M368.9 435.5 L376.6 432.4 L379.4 439.3 L371.7 442.4 L368.9 435.5" fill="none" stroke="#198a19" stroke-width="1.1" stroke-linejoin="round"/>
<path d="M304.1 380.4 L308.2 378.5 L310.8 384.2 L306.7 386.1 L304.1 380.4" fill="none" stroke="#198a19" stroke-width="1.1" stroke-linejoin="round"/>
<path d="M378.6 382.1 L383.0 380.1 L384.2 382.7 L382.0 383.7 L383.2 386.4 L381.0 387.4 L378.6 382.1" fill="none" stroke="#198a19" stroke-width="1.1" stroke-linejoin="round"/>
<path d="M410.1 466.7 L419.0 463.1 L421.7 470.0 L412.8 473.6 L410.1 466.7" fill="none" stroke="#198a19" stroke-width="1.1" stroke-linejoin="round"/>
<path d="M372.3 495.9 L376.8 505.5 L373.6 507.0 L369.1 497.4 L372.3 495.9" fill="none" stroke="#198a19" stroke-width="1.1" stroke-linejoin="round"/>
<path d="M240.0 448.2 L243.4 455.6 L237.9 458.2 L234.5 450.7 L240.0 448.2" fill="none" stroke="#198a19" stroke-width="1.1" stroke-linejoin="round"/>
<path d="M364.2 514.9 L368.1 523.2 L365.7 524.3 L363.8 520.1 L361.5 521.2 L359.5 517.1 L364.2 514.9" fill="none" stroke="#198a19" stroke-width="1.1" stroke-linejoin="round"/>
<path d="M353.9 404.6 L356.2 408.9 L350.3 412.1 L348.0 407.7 L353.9 404.6" fill="none" stroke="#198a19" stroke-width="1.1" stroke-linejoin="round"/>
<path d="M350.5 416.7 L360.4 412.7 L361.1 414.5 L356.2 416.5 L356.9 418.3 L352.0 420.3 L350.5 416.7" fill="none" stroke="#198a19" stroke-width="1.1" stroke-linejoin="round"/>
<path d="M364.0 417.2 L370.2 414.3 L371.0 416.2 L367.9 417.6 L368.8 419.4 L365.7 420.9 L364.0 417.2" fill="none" stroke="#198a19" stroke-width="1.1" stroke-linejoin="round"/>
<path d="M334.5 471.4 L342.2 467.3 L344.7 472.0" fill="none" stroke="#198a19" stroke-width="1.1" stroke-linejoin="round"/>
<path d="M296.1 452.3 L304.0 449.1 L305.3 452.3 L301.4 453.9 L302.7 457.1 L298.7 458.7 L296.1 452.3" fill="none" stroke="#198a19" stroke-width="1.1" stroke-linejoin="round"/>
<path d="M271.4 361.9 L279.0 358.8 L280.8 363.2 L273.1 366.3 L271.4 361.9" fill="none" stroke="#198a19" stroke-width="1.1" stroke-linejoin="round"/>
<path d="M329.5 487.0 L337.7 483.2 L340.9 490.1 L332.7 493.9 L329.5 487.0" fill="none" stroke="#198a19" stroke-width="1.1" stroke-linejoin="round"/>
<path d="M263.6 409.7 L272.8 404.8 L276.1 411.0 L266.9 416.0 L263.6 409.7" fill="none" stroke="#198a19" stroke-width="1.1" stroke-linejoin="round"/>
<path d="M339.9 451.0 L343.3 457.5 L340.0 459.3 L336.6 452.8 L339.9 451.0" fill="none" stroke="#198a19" stroke-width="1.1" stroke-linejoin="round"/>
<path d="M405.7 327.4 L412.9 323.6 L414.0 325.7 L410.4 327.6 L411.6 329.7 L408.0 331.6 L405.7 327.4" fill="none" stroke="#198a19" stroke-width="1.1" stroke-linejoin="round"/>
<path d="M241.7 342.7 L244.1 347.8 L238.0 350.7 L235.6 345.6 L241.7 342.7" fill="none" stroke="#198a19" stroke-width="1.1" stroke-linejoin="round"/>
<path d="M387.1 479.1 L393.8 476.1 L395.1 478.8 L391.7 480.4 L393.0 483.2 L389.7 484.7 L387.1 479.1" fill="none" stroke="#198a19" stroke-width="1.1" stroke-linejoin="round"/>
<path d="M393.7 511.6 L399.0 509.5 L401.0 514.6 L395.8 516.7 L393.7 511.6" fill="none" stroke="#198a19" stroke-width="1.1" stroke-linejoin="round"/>
<path d="M234.7 413.8 L239.7 411.5 L241.7 415.6 L236.6 418.0 L234.7 413.8" fill="none" stroke="#198a19" stroke-width="1.1" stroke-linejoin="round"/>
<path d="M374.6 418.7 L379.8 428.4 L376.1 430.3" fill="none" stroke="#198a19" stroke-width="1.1" stroke-linejoin="round"/>
<path d="M376.6 358.4 L381.1 367.9 L375.1 370.7 L370.7 361.1 L376.6 358.4" fill="none" stroke="#198a19" stroke-width="1.1" stroke-linejoin="round"/>
<path d="M322.3 444.5 L328.5 441.6 L331.0 447.0" fill="none" stroke="#198a19" stroke-width="1.1" stroke-linejoin="round"/>
<path d="M397.4 505.6 L400.1 511.5 L393.1 514.8 L390.4 508.9 L397.4 505.6" fill="none" stroke="#198a19" stroke-width="1.1" stroke-linejoin="round"/>
<path d="M404.9 478.6 L410.2 476.1 L413.3 482.8" fill="none" stroke="#198a19" stroke-width="1.1" stroke-linejoin="round"/>
<path d="M427.1 426.4 L432.5 423.5 L435.6 429.3 L430.2 432.2 L427.1 426.4" fill="none" stroke="#198a19" stroke-width="1.1" stroke-linejoin="round"/>
<path d="M331.8 325.6 L338.8 321.9 L342.0 327.9 L334.9 331.6 L331.8 325.6" fill="none" stroke="#198a19" stroke-width="1.1" stroke-linejoin="round"/>
<path d="M237.7 482.8 L244.2 479.7 L245.0 481.4 L241.7 482.9 L242.5 484.5 L239.2 486.0 L237.7 482.8" fill="none" stroke="#198a19" stroke-width="1.1" stroke-linejoin="round"/>
<path d="M374.7 500.9 L376.9 505.7 L374.4 506.9 L373.2 504.5 L370.7 505.7 L369.5 503.3 L374.7 500.9" fill="none" stroke="#198a19" stroke-width="1.1" stroke-linejoin="round"/>
<path d="M405.1 453.6 L408.5 461.0 L405.6 462.4 L403.9 458.7 L401.0 460.0 L399.2 456.3 L405.1 453.6" fill="none" stroke="#198a19" stroke-width="1.1" stroke-linejoin="round"/>
<path d="M324.3 427.1 L328.4 434.7 L323.3 437.4" fill="none" stroke="#198a19" stroke-width="1.1" stroke-linejoin="round"/>
<path d="M348.9 375.9 L353.5 385.6 L350.2 387.1 L347.9 382.3 L344.7 383.8 L342.4 379.0 L348.9 375.9" fill="none" stroke="#198a19" stroke-width="1.1" stroke-linejoin="round"/>
<path d="M297.7 342.9 L301.3 349.9 L296.1 352.6 L292.4 345.7 L297.7 342.9" fill="none" stroke="#198a19" stroke-width="1.1" stroke-linejoin="round"/>
<path d="M344.1 416.6 L347.3 422.7 L342.2 425.4 L339.0 419.3 L344.1 416.6" fill="none" stroke="#198a19" stroke-width="1.1" stroke-linejoin="round"/>
<path d="M419.8 426.1 L422.2 430.7 L418.9 432.4 L416.4 427.9 L419.8 426.1" fill="none" stroke="#198a19" stroke-width="1.1" stroke-linejoin="round"/>
<path d="M423.2 408.1 L425.8 413.7 L420.8 416.0 L418.2 410.4 L423.2 408.1" fill="none" stroke="#198a19" stroke-width="1.1" stroke-linejoin="round"/>
<path d="M322.8 479.8 L326.1 486.9 L322.6 488.6 L319.3 481.5 L322.8 479.8" fill="none" stroke="#198a19" stroke-width="1.1" stroke-linejoin="round"/>
<path d="M239.0 371.0 L243.1 369.0 L244.9 372.7 L240.7 374.7 L239.0 371.0" fill="none" stroke="#198a19" stroke-width="1.1" stroke-linejoin="round"/>
<path d="M288.2 465.4 L296.0 462.2 L296.7 464.0 L292.8 465.6 L293.5 467.4 L289.6 469.0 L288.2 465.4" fill="none" stroke="#198a19" stroke-width="1.1" stroke-linejoin="round"/>
<path d="M255.0 421.8 L263.1 417.5 L266.1 423.2" fill="none" stroke="#198a19" stroke-width="1.1" stroke-linejoin="round"/>
<path d="M241.3 442.2 L245.2 449.6 L240.1 452.3" fill="none" stroke="#198a19" stroke-width="1.1" stroke-linejoin="round"/>
<path d="M337.0 362.4 L346.2 358.7 L348.5 364.4" fill="none" stroke="#198a19" stroke-width="1.1" stroke-linejoin="round"/>
<path d="M276.8 469.4 L286.0 464.5 L288.2 468.7 L279.1 473.6 L276.8 469.4" fill="none" stroke="#198a19" stroke-width="1.1" stroke-linejoin="round"/>
</g>
</g></g>
  <text x="165.0" y="235.0" font-size="7.6" fill="#a3705e" text-anchor="middle" font-weight="normal" font-style="normal" opacity="0.85" letter-spacing="0" stroke="#fff" stroke-opacity="0.55" stroke-width="1.6" paint-order="stroke">Veliki Rakovnik</text>
<text x="165.0" y="245.0" font-size="7.6" fill="#a3705e" text-anchor="middle" font-weight="normal" font-style="normal" opacity="0.85" letter-spacing="0" stroke="#fff" stroke-opacity="0.55" stroke-width="1.6" paint-order="stroke">358 m</text>
<text x="224.0" y="287.0" font-size="7.6" fill="#a3705e" text-anchor="middle" font-weight="normal" font-style="normal" opacity="0.85" letter-spacing="0" stroke="#fff" stroke-opacity="0.55" stroke-width="1.6" paint-order="stroke">Rožnik</text>
<text x="224.0" y="297.0" font-size="7.6" fill="#a3705e" text-anchor="middle" font-weight="normal" font-style="normal" opacity="0.85" letter-spacing="0" stroke="#fff" stroke-opacity="0.55" stroke-width="1.6" paint-order="stroke">393 m</text>
<text x="279.0" y="239.0" font-size="7.6" fill="#a3705e" text-anchor="middle" font-weight="normal" font-style="normal" opacity="0.85" letter-spacing="0" stroke="#fff" stroke-opacity="0.55" stroke-width="1.6" paint-order="stroke">Drenikov</text>
<text x="279.0" y="249.0" font-size="7.6" fill="#a3705e" text-anchor="middle" font-weight="normal" font-style="normal" opacity="0.85" letter-spacing="0" stroke="#fff" stroke-opacity="0.55" stroke-width="1.6" paint-order="stroke">vrh</text>
<text x="279.0" y="259.0" font-size="7.6" fill="#a3705e" text-anchor="middle" font-weight="normal" font-style="normal" opacity="0.85" letter-spacing="0" stroke="#fff" stroke-opacity="0.55" stroke-width="1.6" paint-order="stroke">386 m</text>
<text x="333.0" y="216.5" font-size="7.6" fill="#a3705e" text-anchor="middle" font-weight="normal" font-style="normal" opacity="0.85" letter-spacing="0" stroke="#fff" stroke-opacity="0.55" stroke-width="1.6" paint-order="stroke">Šišenski</text>
<text x="333.0" y="226.5" font-size="7.6" fill="#a3705e" text-anchor="middle" font-weight="normal" font-style="normal" opacity="0.85" letter-spacing="0" stroke="#fff" stroke-opacity="0.55" stroke-width="1.6" paint-order="stroke">hrib</text>
<text x="333.0" y="236.5" font-size="7.6" fill="#a3705e" text-anchor="middle" font-weight="normal" font-style="normal" opacity="0.85" letter-spacing="0" stroke="#fff" stroke-opacity="0.55" stroke-width="1.6" paint-order="stroke">429 m</text>
<text x="349.0" y="273.5" font-size="7.6" fill="#a3705e" text-anchor="middle" font-weight="normal" font-style="normal" opacity="0.85" letter-spacing="0" stroke="#fff" stroke-opacity="0.55" stroke-width="1.6" paint-order="stroke">Tivolski</text>
<text x="349.0" y="283.5" font-size="7.6" fill="#a3705e" text-anchor="middle" font-weight="normal" font-style="normal" opacity="0.85" letter-spacing="0" stroke="#fff" stroke-opacity="0.55" stroke-width="1.6" paint-order="stroke">vrh</text>
<text x="349.0" y="293.5" font-size="7.6" fill="#a3705e" text-anchor="middle" font-weight="normal" font-style="normal" opacity="0.85" letter-spacing="0" stroke="#fff" stroke-opacity="0.55" stroke-width="1.6" paint-order="stroke">387 m</text>
<text x="783.0" y="467.0" font-size="7.6" fill="#a3705e" text-anchor="middle" font-weight="normal" font-style="normal" opacity="0.85" letter-spacing="0" stroke="#fff" stroke-opacity="0.55" stroke-width="1.6" paint-order="stroke">Luknje</text>
<text x="783.0" y="477.0" font-size="7.6" fill="#a3705e" text-anchor="middle" font-weight="normal" font-style="normal" opacity="0.85" letter-spacing="0" stroke="#fff" stroke-opacity="0.55" stroke-width="1.6" paint-order="stroke">431 m</text>
<path d="M165.0 221.2l2.6 4.6h-5.2z" fill="#d8925f"/>
<path d="M224.0 273.7l2.6 4.6h-5.2z" fill="#d8925f"/>
<path d="M279.0 225.2l2.6 4.6h-5.2z" fill="#d8925f"/>
<path d="M333.0 202.2l2.6 4.6h-5.2z" fill="#d8925f"/>
<path d="M349.0 260.7l2.6 4.6h-5.2z" fill="#d8925f"/>
<path d="M783.0 452.2l2.6 4.6h-5.2z" fill="#d8925f"/>
<path d="M896.0 505.7l2.6 4.6h-5.2z" fill="#d8925f"/>
<text x="896.0" y="521.0" font-size="7.6" fill="#a3705e" text-anchor="middle" font-weight="normal" font-style="normal" opacity="0.85" letter-spacing="0" stroke="#fff" stroke-opacity="0.55" stroke-width="1.6" paint-order="stroke">Hruševsk</text>
<text x="176.0" y="273.0" font-size="7.8" fill="#8e2c72" text-anchor="middle" font-weight="bold" font-style="normal" opacity="1" letter-spacing="0" stroke="#fff" stroke-opacity="0.55" stroke-width="1.6" paint-order="stroke">Živalski</text>
<text x="176.0" y="283.0" font-size="7.8" fill="#8e2c72" text-anchor="middle" font-weight="bold" font-style="normal" opacity="1" letter-spacing="0" stroke="#fff" stroke-opacity="0.55" stroke-width="1.6" paint-order="stroke">vrt</text>
<text x="406.0" y="273.0" font-size="7.8" fill="#5f9c72" text-anchor="middle" font-weight="normal" font-style="italic" opacity="1" letter-spacing="0" stroke="#fff" stroke-opacity="0.55" stroke-width="1.6" paint-order="stroke">Park Tivoli</text>
<text x="93.0" y="200.0" font-size="7.8" fill="#5f9c72" text-anchor="middle" font-weight="normal" font-style="italic" opacity="1" letter-spacing="0" stroke="#fff" stroke-opacity="0.55" stroke-width="1.6" paint-order="stroke">Tonniesa</text>
<text x="45.0" y="194.0" font-size="7.8" fill="#5f9c72" text-anchor="middle" font-weight="normal" font-style="italic" opacity="1" letter-spacing="0" stroke="#fff" stroke-opacity="0.55" stroke-width="1.6" paint-order="stroke">ngele</text>
<text x="128.0" y="232.0" font-size="6.8" fill="#55504e" text-anchor="middle" font-weight="normal" font-style="normal" opacity="1" letter-spacing="0" transform="rotate(66 128 232)" stroke="#fff" stroke-opacity="0.55" stroke-width="1.6" paint-order="stroke">Večna pot</text>
<text x="177.0" y="322.0" font-size="6.8" fill="#55504e" text-anchor="middle" font-weight="normal" font-style="normal" opacity="1" letter-spacing="0" transform="rotate(62 177 322)" stroke="#fff" stroke-opacity="0.55" stroke-width="1.6" paint-order="stroke">Večna</text>
<text x="333.0" y="351.0" font-size="11" fill="#8c7f80" text-anchor="middle" font-weight="normal" font-style="normal" opacity="0.8" letter-spacing="0">Rožna dolina</text>
<text x="548.0" y="249.0" font-size="8.4" fill="#6c6cc0" text-anchor="middle" font-weight="bold" font-style="normal" opacity="1" letter-spacing="0" stroke="#fff" stroke-opacity="0.55" stroke-width="1.6" paint-order="stroke">Ljubljana</text>
<text x="513.0" y="354.0" font-size="12.5" fill="#5a5555" text-anchor="middle" font-weight="normal" font-style="normal" opacity="1" letter-spacing="0" stroke="#fff" stroke-opacity="0.55" stroke-width="1.6" paint-order="stroke">Ljubljana'</text>
<text x="691.0" y="279.0" font-size="11.5" fill="#8a8282" text-anchor="middle" font-weight="normal" font-style="normal" opacity="0.9" letter-spacing="0" stroke="#fff" stroke-opacity="0.55" stroke-width="1.6" paint-order="stroke">Vodmat</text>
<text x="771.0" y="257.0" font-size="11.5" fill="#8a8282" text-anchor="middle" font-weight="normal" font-style="normal" opacity="0.9" letter-spacing="0" stroke="#fff" stroke-opacity="0.55" stroke-width="1.6" paint-order="stroke">Moste</text>
<text x="869.0" y="322.0" font-size="11.5" fill="#8a8282" text-anchor="start" font-weight="normal" font-style="normal" opacity="0.9" letter-spacing="0" stroke="#fff" stroke-opacity="0.55" stroke-width="1.6" paint-order="stroke">Štepanjs</text>
<text x="880.0" y="338.0" font-size="11.5" fill="#8a8282" text-anchor="start" font-weight="normal" font-style="normal" opacity="0.9" letter-spacing="0" stroke="#fff" stroke-opacity="0.55" stroke-width="1.6" paint-order="stroke">naselje</text>
<text x="897.0" y="447.0" font-size="12.5" fill="#7c7676" text-anchor="start" font-weight="normal" font-style="normal" opacity="0.9" letter-spacing="0" stroke="#fff" stroke-opacity="0.55" stroke-width="1.6" paint-order="stroke">Zgo</text>
<text x="733.0" y="296.0" font-size="8" fill="#6f9ad0" text-anchor="middle" font-weight="normal" font-style="italic" opacity="1" letter-spacing="0" transform="rotate(-19 733 296)" stroke="#fff" stroke-opacity="0.55" stroke-width="1.6" paint-order="stroke">Ljubljanica</text>
<text x="748.0" y="377.0" font-size="7.6" fill="#6f9ad0" text-anchor="middle" font-weight="normal" font-style="italic" opacity="1" letter-spacing="0" transform="rotate(-3 748 377)" stroke="#fff" stroke-opacity="0.55" stroke-width="1.6" paint-order="stroke">Gruberjev prekop</text>
<text x="499.0" y="413.0" font-size="7.6" fill="#6f9ad0" text-anchor="middle" font-weight="normal" font-style="italic" opacity="1" letter-spacing="0" transform="rotate(84 499 413)" stroke="#fff" stroke-opacity="0.55" stroke-width="1.6" paint-order="stroke">Ljubljanica</text>
<text x="798.0" y="313.0" font-size="6.8" fill="#55504e" text-anchor="middle" font-weight="normal" font-style="normal" opacity="1" letter-spacing="0" transform="rotate(21 798 313)" stroke="#fff" stroke-opacity="0.55" stroke-width="1.6" paint-order="stroke">Povšetova ulica</text>
<text x="837.0" y="215.0" font-size="6.8" fill="#55504e" text-anchor="middle" font-weight="normal" font-style="normal" opacity="1" letter-spacing="0" transform="rotate(82 837 215)" stroke="#fff" stroke-opacity="0.55" stroke-width="1.6" paint-order="stroke">Kajuhova ulica</text>
<text x="866.0" y="330.0" font-size="6.8" fill="#55504e" text-anchor="middle" font-weight="normal" font-style="normal" opacity="1" letter-spacing="0" transform="rotate(90 866 330)" stroke="#fff" stroke-opacity="0.55" stroke-width="1.6" paint-order="stroke">Parmska cesta</text>
<text x="688.0" y="407.0" font-size="6.8" fill="#55504e" text-anchor="middle" font-weight="normal" font-style="normal" opacity="1" letter-spacing="0" transform="rotate(-38 688 407)" stroke="#fff" stroke-opacity="0.55" stroke-width="1.6" paint-order="stroke">Hradeckega cesta</text>
<text x="541.0" y="374.5" font-size="8" fill="#7b7bc4" text-anchor="middle" font-weight="normal" font-style="normal" opacity="1" letter-spacing="0" stroke="#fff" stroke-opacity="0.55" stroke-width="1.6" paint-order="stroke">Zgornja</text>
<text x="541.0" y="384.5" font-size="8" fill="#7b7bc4" text-anchor="middle" font-weight="normal" font-style="normal" opacity="1" letter-spacing="0" stroke="#fff" stroke-opacity="0.55" stroke-width="1.6" paint-order="stroke">postaja</text>
<text x="535.0" y="394.5" font-size="8" fill="#7b7bc4" text-anchor="middle" font-weight="normal" font-style="normal" opacity="1" letter-spacing="0" stroke="#fff" stroke-opacity="0.55" stroke-width="1.6" paint-order="stroke">tirne vzpenjače</text>
<text x="534.0" y="440.0" font-size="9.5" fill="#6f6868" text-anchor="middle" font-weight="normal" font-style="normal" opacity="1" letter-spacing="0" stroke="#fff" stroke-opacity="0.55" stroke-width="1.6" paint-order="stroke">Prule</text>
<text x="483.0" y="470.0" font-size="11.5" fill="#8a8282" text-anchor="middle" font-weight="normal" font-style="normal" opacity="0.9" letter-spacing="0" stroke="#fff" stroke-opacity="0.55" stroke-width="1.6" paint-order="stroke">Trnovo</text>
<text x="179.0" y="494.0" font-size="6.8" fill="#6a5a4e" text-anchor="middle" font-weight="normal" font-style="normal" opacity="1" letter-spacing="0" transform="rotate(-32 179 494)" stroke="#fff" stroke-opacity="0.55" stroke-width="1.6" paint-order="stroke">Tržaška cesta</text>
<text x="229.0" y="481.0" font-size="6.8" fill="#55504e" text-anchor="middle" font-weight="normal" font-style="normal" opacity="1" letter-spacing="0" transform="rotate(-19 229 481)" stroke="#fff" stroke-opacity="0.55" stroke-width="1.6" paint-order="stroke">Jamova cesta</text>
<text x="31.0" y="463.0" font-size="11.5" fill="#8a8282" text-anchor="start" font-weight="normal" font-style="normal" opacity="0.9" letter-spacing="0" stroke="#fff" stroke-opacity="0.55" stroke-width="1.6" paint-order="stroke">ovci</text>
<text x="56.0" y="489.0" font-size="6.8" fill="#55504e" text-anchor="middle" font-weight="normal" font-style="normal" opacity="1" letter-spacing="0" transform="rotate(7 56 489)" stroke="#fff" stroke-opacity="0.55" stroke-width="1.6" paint-order="stroke">tskega odreda</text>
<text x="700.0" y="222.0" font-size="6.5" fill="#7a7575" text-anchor="middle" font-weight="normal" font-style="normal" opacity="1" letter-spacing="0">P4</text>
<text x="776.0" y="222.0" font-size="6.5" fill="#7a7575" text-anchor="middle" font-weight="normal" font-style="normal" opacity="1" letter-spacing="0">P5</text>
<text x="486.0" y="198.0" font-size="6.8" fill="#55504e" text-anchor="middle" font-weight="normal" font-style="normal" opacity="1" letter-spacing="0" transform="rotate(72 486 198)" stroke="#fff" stroke-opacity="0.55" stroke-width="1.6" paint-order="stroke">a cesta</text>
<text x="643.0" y="197.0" font-size="6.8" fill="#55504e" text-anchor="middle" font-weight="normal" font-style="normal" opacity="1" letter-spacing="0" transform="rotate(75 643 197)" stroke="#fff" stroke-opacity="0.55" stroke-width="1.6" paint-order="stroke">ulica</text>
<text x="680.0" y="519.0" font-size="6.5" fill="#55504e" text-anchor="middle" font-weight="normal" font-style="normal" opacity="1" letter-spacing="0" transform="rotate(-35 680 519)" stroke="#fff" stroke-opacity="0.55" stroke-width="1.6" paint-order="stroke">ova ulica</text>
<text x="36.0" y="523.0" font-size="6" fill="#d05050" text-anchor="middle" font-weight="normal" font-style="italic" opacity="1" letter-spacing="0">azorje</text>
<text x="392.0" y="415.0" font-size="6" fill="#b5705a" text-anchor="middle" font-weight="normal" font-style="normal" opacity="0.8" letter-spacing="0" transform="rotate(-24 392 415)">Tržaška cesta</text>
<circle cx="116" cy="212.5" r="2.6" fill="none" stroke="#7c9be0" stroke-width="1"/><circle cx="116" cy="212.5" r="0.8" fill="#7c9be0"/>
<circle cx="406" cy="249" r="2.6" fill="none" stroke="#7c9be0" stroke-width="1"/>
<circle cx="281" cy="213" r="2.6" fill="none" stroke="#7c9be0" stroke-width="1"/>
<path d="M192 412v7M190.5 419h3M189.3 413.5a3.5 3.5 0 0 0 0 4M194.7 413.5a3.5 3.5 0 0 1 0 4" fill="none" stroke="#666" stroke-width="0.9"/>
<rect x="39.4" y="194.6" width="23.1" height="44" rx="3.6" fill="#000" opacity="0.10"/>
<rect x="39.9" y="194.9" width="22.1" height="43" rx="3.2" fill="#fff"/>
<path d="M40.2 216.2H61.8" stroke="#bdbdbd" stroke-width="0.9"/>
<path d="M46.7 206.2h8.9M51.15 201.75v8.9M46.7 228h8.9" stroke="#111" stroke-width="2.1"/>
  </svg>

  <!-- TREEMAP -->
  <div id="tm" style="z-index:3">
    <div style="left:0;top:0;width:295px;height:117.6px;background:#969896">Street</div>
    <div style="left:0;top:117.6px;width:295px;height:214.9px;background:#abb0ac">Courtyard</div>
    <div style="left:295px;top:0;width:66.4px;height:127.2px;background:#6bc84d;border-left:1px solid #8fd07c">Field</div>
    <div style="left:295px;top:127.2px;width:66.4px;height:16.2px;background:#9c9e9c;border-left:1px solid #b4b6b4;border-top:1px solid #b0b2b0;padding-top:4px">Facility</div>
    <div style="left:295px;top:143.4px;width:66.4px;height:29.6px;background:#a5a7a5;border-left:1px solid #b8bab8;border-top:1px solid #b9bbb9;padding-top:4px">Path</div>
    <div style="left:295px;top:173px;width:66.4px;height:159.5px;background:#9bb795;border-left:1px solid #b0c6ab;border-top:1px solid #a9c0a4;padding-top:5px">Orchard</div>
    <div style="left:361.4px;top:0;width:337.4px;height:332.5px;background:#888888">Building</div>
    <div style="left:698.8px;top:0;width:185.2px;height:332.5px;background:#7ac466">Grass</div>
  </div>

  <!-- INFO -->
  <div id="info" style="z-index:3">
<div>UNIT: <b>VI-378</b></div>
<div>LAND USE: <b>CDi</b></div>
<div>LAND USE DESCRIPTION: <b>Areas of central education activities</b></div>
<div>MIN GREEN AREA: <b>25</b></div>
<div>BUILDING DESCRIPTION: <b>Peculiar building</b></div>
<div>CURRENT BUILDINGS PER ha: <b>1.51</b></div>
<div>CURRENT POPULATION DENSITY: <b>10 to 20</b></div>
<div>AREA: <b>33166</b></div>
<div>CN A: <b>74</b></div>
<div>CN B: <b>84</b></div>
<div>CN C: <b>89</b></div>
<div>CN D: <b>91</b></div>
<div>RAIN STATION: <b>Ljubljana Bežigrad</b></div>
  </div>

  <!-- charts layer in page coords -->
  <svg class="abs" style="left:0;top:0;width:1892px;height:939px;z-index:4;pointer-events:none" viewBox="0 46 1892 939">
  <path d="M536 639.5H541.8V811.3H1054.8V816.5" fill="none" stroke="#8d8fa3" stroke-width="1.2"/>
<path d="M536 811.3H541.8" stroke="#8d8fa3" stroke-width="1"/>
<text x="534" y="814.2" text-anchor="end" font-size="8" fill="#4a4a55">0</text>
<path d="M536 792.2H541.8" stroke="#8d8fa3" stroke-width="1"/>
<text x="534" y="795.1" text-anchor="end" font-size="8" fill="#4a4a55">20</text>
<path d="M536 773.0H541.8" stroke="#8d8fa3" stroke-width="1"/>
<text x="534" y="775.9" text-anchor="end" font-size="8" fill="#4a4a55">40</text>
<path d="M536 753.9H541.8" stroke="#8d8fa3" stroke-width="1"/>
<text x="534" y="756.8" text-anchor="end" font-size="8" fill="#4a4a55">60</text>
<path d="M536 734.7H541.8" stroke="#8d8fa3" stroke-width="1"/>
<text x="534" y="737.6" text-anchor="end" font-size="8" fill="#4a4a55">80</text>
<path d="M536 715.6H541.8" stroke="#8d8fa3" stroke-width="1"/>
<text x="534" y="718.5" text-anchor="end" font-size="8" fill="#4a4a55">100</text>
<path d="M536 696.5H541.8" stroke="#8d8fa3" stroke-width="1"/>
<text x="534" y="699.4" text-anchor="end" font-size="8" fill="#4a4a55">120</text>
<path d="M536 677.3H541.8" stroke="#8d8fa3" stroke-width="1"/>
<text x="534" y="680.2" text-anchor="end" font-size="8" fill="#4a4a55">140</text>
<path d="M536 658.2H541.8" stroke="#8d8fa3" stroke-width="1"/>
<text x="534" y="661.1" text-anchor="end" font-size="8" fill="#4a4a55">160</text>
<path d="M536 639.0H541.8" stroke="#8d8fa3" stroke-width="1"/>
<text x="534" y="641.9" text-anchor="end" font-size="8" fill="#4a4a55">180</text>
<path d="M541.8 811.3V816.5" stroke="#8d8fa3" stroke-width="1"/>
<text x="541.8" y="825.3" text-anchor="middle" font-size="8" fill="#4a4a55">0</text>
<path d="M610.2 811.3V816.5" stroke="#8d8fa3" stroke-width="1"/>
<text x="610.2" y="825.3" text-anchor="middle" font-size="8" fill="#4a4a55">200</text>
<path d="M678.6 811.3V816.5" stroke="#8d8fa3" stroke-width="1"/>
<text x="678.6" y="825.3" text-anchor="middle" font-size="8" fill="#4a4a55">400</text>
<path d="M747.0 811.3V816.5" stroke="#8d8fa3" stroke-width="1"/>
<text x="747.0" y="825.3" text-anchor="middle" font-size="8" fill="#4a4a55">600</text>
<path d="M815.4 811.3V816.5" stroke="#8d8fa3" stroke-width="1"/>
<text x="815.4" y="825.3" text-anchor="middle" font-size="8" fill="#4a4a55">800</text>
<path d="M883.8 811.3V816.5" stroke="#8d8fa3" stroke-width="1"/>
<text x="883.8" y="825.3" text-anchor="middle" font-size="8" fill="#4a4a55">1,000</text>
<path d="M952.2 811.3V816.5" stroke="#8d8fa3" stroke-width="1"/>
<text x="952.2" y="825.3" text-anchor="middle" font-size="8" fill="#4a4a55">1,200</text>
<path d="M1020.6 811.3V816.5" stroke="#8d8fa3" stroke-width="1"/>
<text x="1020.6" y="825.3" text-anchor="middle" font-size="8" fill="#4a4a55">1,400</text>
<text x="798" y="845" text-anchor="middle" font-size="8" fill="#4a4a55">Rainfall Duration</text>
<text transform="translate(507.5 753) rotate(-90)" text-anchor="middle" font-size="8" fill="#4a4a55">Rainfall Height</text>
<path d="M543.5 803.1 L545.2 799.1 L546.9 795.6 L548.6 793.8 L552.1 789.8 L557.2 786.6 L562.3 784.8 L572.6 781.2 L582.8 778.8 L603.4 774.9 L623.9 771.1 L644.4 768.2 L664.9 765.4 L726.5 759.6 L788.0 754.5 L849.6 749.7 L911.2 745.9 L1034.3 738.4" fill="none" stroke="#a5d0fb" stroke-width="1.6" stroke-linejoin="round"/>
<circle cx="543.5" cy="803.1" r="3" fill="#a5d0fb" stroke="#fff" stroke-width="0.8"/>
<circle cx="545.2" cy="799.1" r="3" fill="#a5d0fb" stroke="#fff" stroke-width="0.8"/>
<circle cx="546.9" cy="795.6" r="3" fill="#a5d0fb" stroke="#fff" stroke-width="0.8"/>
<circle cx="548.6" cy="793.8" r="3" fill="#a5d0fb" stroke="#fff" stroke-width="0.8"/>
<circle cx="552.1" cy="789.8" r="3" fill="#a5d0fb" stroke="#fff" stroke-width="0.8"/>
<circle cx="557.2" cy="786.6" r="3" fill="#a5d0fb" stroke="#fff" stroke-width="0.8"/>
<circle cx="562.3" cy="784.8" r="3" fill="#a5d0fb" stroke="#fff" stroke-width="0.8"/>
<circle cx="572.6" cy="781.2" r="3" fill="#a5d0fb" stroke="#fff" stroke-width="0.8"/>
<circle cx="582.8" cy="778.8" r="3" fill="#a5d0fb" stroke="#fff" stroke-width="0.8"/>
<circle cx="603.4" cy="774.9" r="3" fill="#a5d0fb" stroke="#fff" stroke-width="0.8"/>
<circle cx="623.9" cy="771.1" r="3" fill="#a5d0fb" stroke="#fff" stroke-width="0.8"/>
<circle cx="644.4" cy="768.2" r="3" fill="#a5d0fb" stroke="#fff" stroke-width="0.8"/>
<circle cx="664.9" cy="765.4" r="3" fill="#a5d0fb" stroke="#fff" stroke-width="0.8"/>
<circle cx="726.5" cy="759.6" r="3" fill="#a5d0fb" stroke="#fff" stroke-width="0.8"/>
<circle cx="788.0" cy="754.5" r="3" fill="#a5d0fb" stroke="#fff" stroke-width="0.8"/>
<circle cx="849.6" cy="749.7" r="3" fill="#a5d0fb" stroke="#fff" stroke-width="0.8"/>
<circle cx="911.2" cy="745.9" r="3" fill="#a5d0fb" stroke="#fff" stroke-width="0.8"/>
<circle cx="1034.3" cy="738.4" r="3" fill="#a5d0fb" stroke="#fff" stroke-width="0.8"/>
<path d="M543.5 799.9 L545.2 794.5 L546.9 789.6 L548.6 787.1 L552.1 781.7 L557.2 777.2 L562.3 774.8 L572.6 769.8 L582.8 766.3 L603.4 762.5 L623.9 758.7 L644.4 754.8 L664.9 752.9 L726.5 746.2 L788.0 740.1 L849.6 734.3 L911.2 729.9 L1034.3 720.1" fill="none" stroke="#6ab2f8" stroke-width="1.6" stroke-linejoin="round"/>
<circle cx="543.5" cy="799.9" r="3" fill="#6ab2f8" stroke="#fff" stroke-width="0.8"/>
<circle cx="545.2" cy="794.5" r="3" fill="#6ab2f8" stroke="#fff" stroke-width="0.8"/>
<circle cx="546.9" cy="789.6" r="3" fill="#6ab2f8" stroke="#fff" stroke-width="0.8"/>
<circle cx="548.6" cy="787.1" r="3" fill="#6ab2f8" stroke="#fff" stroke-width="0.8"/>
<circle cx="552.1" cy="781.7" r="3" fill="#6ab2f8" stroke="#fff" stroke-width="0.8"/>
<circle cx="557.2" cy="777.2" r="3" fill="#6ab2f8" stroke="#fff" stroke-width="0.8"/>
<circle cx="562.3" cy="774.8" r="3" fill="#6ab2f8" stroke="#fff" stroke-width="0.8"/>
<circle cx="572.6" cy="769.8" r="3" fill="#6ab2f8" stroke="#fff" stroke-width="0.8"/>
<circle cx="582.8" cy="766.3" r="3" fill="#6ab2f8" stroke="#fff" stroke-width="0.8"/>
<circle cx="603.4" cy="762.5" r="3" fill="#6ab2f8" stroke="#fff" stroke-width="0.8"/>
<circle cx="623.9" cy="758.7" r="3" fill="#6ab2f8" stroke="#fff" stroke-width="0.8"/>
<circle cx="644.4" cy="754.8" r="3" fill="#6ab2f8" stroke="#fff" stroke-width="0.8"/>
<circle cx="664.9" cy="752.9" r="3" fill="#6ab2f8" stroke="#fff" stroke-width="0.8"/>
<circle cx="726.5" cy="746.2" r="3" fill="#6ab2f8" stroke="#fff" stroke-width="0.8"/>
<circle cx="788.0" cy="740.1" r="3" fill="#6ab2f8" stroke="#fff" stroke-width="0.8"/>
<circle cx="849.6" cy="734.3" r="3" fill="#6ab2f8" stroke="#fff" stroke-width="0.8"/>
<circle cx="911.2" cy="729.9" r="3" fill="#6ab2f8" stroke="#fff" stroke-width="0.8"/>
<circle cx="1034.3" cy="720.1" r="3" fill="#6ab2f8" stroke="#fff" stroke-width="0.8"/>
<path d="M543.5 798.0 L545.2 791.6 L546.9 785.9 L548.6 783.0 L552.1 776.6 L557.2 771.4 L562.3 768.5 L572.6 762.7 L582.8 758.7 L603.4 753.9 L623.9 750.1 L644.4 746.2 L664.9 744.3 L726.5 736.7 L788.0 730.6 L849.6 724.8 L911.2 718.2 L1034.3 707.8" fill="none" stroke="#3d98f7" stroke-width="1.6" stroke-linejoin="round"/>
<circle cx="543.5" cy="798.0" r="3" fill="#3d98f7" stroke="#fff" stroke-width="0.8"/>
<circle cx="545.2" cy="791.6" r="3" fill="#3d98f7" stroke="#fff" stroke-width="0.8"/>
<circle cx="546.9" cy="785.9" r="3" fill="#3d98f7" stroke="#fff" stroke-width="0.8"/>
<circle cx="548.6" cy="783.0" r="3" fill="#3d98f7" stroke="#fff" stroke-width="0.8"/>
<circle cx="552.1" cy="776.6" r="3" fill="#3d98f7" stroke="#fff" stroke-width="0.8"/>
<circle cx="557.2" cy="771.4" r="3" fill="#3d98f7" stroke="#fff" stroke-width="0.8"/>
<circle cx="562.3" cy="768.5" r="3" fill="#3d98f7" stroke="#fff" stroke-width="0.8"/>
<circle cx="572.6" cy="762.7" r="3" fill="#3d98f7" stroke="#fff" stroke-width="0.8"/>
<circle cx="582.8" cy="758.7" r="3" fill="#3d98f7" stroke="#fff" stroke-width="0.8"/>
<circle cx="603.4" cy="753.9" r="3" fill="#3d98f7" stroke="#fff" stroke-width="0.8"/>
<circle cx="623.9" cy="750.1" r="3" fill="#3d98f7" stroke="#fff" stroke-width="0.8"/>
<circle cx="644.4" cy="746.2" r="3" fill="#3d98f7" stroke="#fff" stroke-width="0.8"/>
<circle cx="664.9" cy="744.3" r="3" fill="#3d98f7" stroke="#fff" stroke-width="0.8"/>
<circle cx="726.5" cy="736.7" r="3" fill="#3d98f7" stroke="#fff" stroke-width="0.8"/>
<circle cx="788.0" cy="730.6" r="3" fill="#3d98f7" stroke="#fff" stroke-width="0.8"/>
<circle cx="849.6" cy="724.8" r="3" fill="#3d98f7" stroke="#fff" stroke-width="0.8"/>
<circle cx="911.2" cy="718.2" r="3" fill="#3d98f7" stroke="#fff" stroke-width="0.8"/>
<circle cx="1034.3" cy="707.8" r="3" fill="#3d98f7" stroke="#fff" stroke-width="0.8"/>
<path d="M543.5 795.6 L545.2 788.1 L546.9 781.2 L548.6 777.8 L552.1 770.3 L557.2 764.2 L562.3 760.7 L572.6 753.9 L582.8 749.1 L603.4 743.4 L623.9 739.5 L644.4 735.7 L664.9 732.8 L726.5 726.1 L788.0 718.2 L849.6 712.3 L911.2 704.8 L1034.3 691.4" fill="none" stroke="#0a7cf4" stroke-width="1.6" stroke-linejoin="round"/>
<circle cx="543.5" cy="795.6" r="3" fill="#0a7cf4" stroke="#fff" stroke-width="0.8"/>
<circle cx="545.2" cy="788.1" r="3" fill="#0a7cf4" stroke="#fff" stroke-width="0.8"/>
<circle cx="546.9" cy="781.2" r="3" fill="#0a7cf4" stroke="#fff" stroke-width="0.8"/>
<circle cx="548.6" cy="777.8" r="3" fill="#0a7cf4" stroke="#fff" stroke-width="0.8"/>
<circle cx="552.1" cy="770.3" r="3" fill="#0a7cf4" stroke="#fff" stroke-width="0.8"/>
<circle cx="557.2" cy="764.2" r="3" fill="#0a7cf4" stroke="#fff" stroke-width="0.8"/>
<circle cx="562.3" cy="760.7" r="3" fill="#0a7cf4" stroke="#fff" stroke-width="0.8"/>
<circle cx="572.6" cy="753.9" r="3" fill="#0a7cf4" stroke="#fff" stroke-width="0.8"/>
<circle cx="582.8" cy="749.1" r="3" fill="#0a7cf4" stroke="#fff" stroke-width="0.8"/>
<circle cx="603.4" cy="743.4" r="3" fill="#0a7cf4" stroke="#fff" stroke-width="0.8"/>
<circle cx="623.9" cy="739.5" r="3" fill="#0a7cf4" stroke="#fff" stroke-width="0.8"/>
<circle cx="644.4" cy="735.7" r="3" fill="#0a7cf4" stroke="#fff" stroke-width="0.8"/>
<circle cx="664.9" cy="732.8" r="3" fill="#0a7cf4" stroke="#fff" stroke-width="0.8"/>
<circle cx="726.5" cy="726.1" r="3" fill="#0a7cf4" stroke="#fff" stroke-width="0.8"/>
<circle cx="788.0" cy="718.2" r="3" fill="#0a7cf4" stroke="#fff" stroke-width="0.8"/>
<circle cx="849.6" cy="712.3" r="3" fill="#0a7cf4" stroke="#fff" stroke-width="0.8"/>
<circle cx="911.2" cy="704.8" r="3" fill="#0a7cf4" stroke="#fff" stroke-width="0.8"/>
<circle cx="1034.3" cy="691.4" r="3" fill="#0a7cf4" stroke="#fff" stroke-width="0.8"/>
<path d="M543.5 793.7 L545.2 785.3 L546.9 777.6 L548.6 773.8 L552.1 765.4 L557.2 758.5 L562.3 754.6 L572.6 747.0 L582.8 741.4 L603.4 735.7 L623.9 730.9 L644.4 727.1 L664.9 725.2 L726.5 717.5 L788.0 709.7 L849.6 702.9 L911.2 694.1 L1034.3 679.9" fill="none" stroke="#0c5fc0" stroke-width="1.6" stroke-linejoin="round"/>
<circle cx="543.5" cy="793.7" r="3" fill="#0c5fc0" stroke="#fff" stroke-width="0.8"/>
<circle cx="545.2" cy="785.3" r="3" fill="#0c5fc0" stroke="#fff" stroke-width="0.8"/>
<circle cx="546.9" cy="777.6" r="3" fill="#0c5fc0" stroke="#fff" stroke-width="0.8"/>
<circle cx="548.6" cy="773.8" r="3" fill="#0c5fc0" stroke="#fff" stroke-width="0.8"/>
<circle cx="552.1" cy="765.4" r="3" fill="#0c5fc0" stroke="#fff" stroke-width="0.8"/>
<circle cx="557.2" cy="758.5" r="3" fill="#0c5fc0" stroke="#fff" stroke-width="0.8"/>
<circle cx="562.3" cy="754.6" r="3" fill="#0c5fc0" stroke="#fff" stroke-width="0.8"/>
<circle cx="572.6" cy="747.0" r="3" fill="#0c5fc0" stroke="#fff" stroke-width="0.8"/>
<circle cx="582.8" cy="741.4" r="3" fill="#0c5fc0" stroke="#fff" stroke-width="0.8"/>
<circle cx="603.4" cy="735.7" r="3" fill="#0c5fc0" stroke="#fff" stroke-width="0.8"/>
<circle cx="623.9" cy="730.9" r="3" fill="#0c5fc0" stroke="#fff" stroke-width="0.8"/>
<circle cx="644.4" cy="727.1" r="3" fill="#0c5fc0" stroke="#fff" stroke-width="0.8"/>
<circle cx="664.9" cy="725.2" r="3" fill="#0c5fc0" stroke="#fff" stroke-width="0.8"/>
<circle cx="726.5" cy="717.5" r="3" fill="#0c5fc0" stroke="#fff" stroke-width="0.8"/>
<circle cx="788.0" cy="709.7" r="3" fill="#0c5fc0" stroke="#fff" stroke-width="0.8"/>
<circle cx="849.6" cy="702.9" r="3" fill="#0c5fc0" stroke="#fff" stroke-width="0.8"/>
<circle cx="911.2" cy="694.1" r="3" fill="#0c5fc0" stroke="#fff" stroke-width="0.8"/>
<circle cx="1034.3" cy="679.9" r="3" fill="#0c5fc0" stroke="#fff" stroke-width="0.8"/>
<path d="M543.5 791.7 L545.2 782.3 L546.9 773.8 L548.6 769.6 L552.1 760.2 L557.2 752.5 L562.3 748.3 L572.6 739.8 L582.8 733.8 L603.4 728.0 L623.9 723.3 L644.4 719.4 L664.9 716.6 L726.5 709.9 L788.0 700.9 L849.6 693.1 L911.2 683.6 L1034.3 668.5" fill="none" stroke="#0b4388" stroke-width="1.6" stroke-linejoin="round"/>
<circle cx="543.5" cy="791.7" r="3" fill="#0b4388" stroke="#fff" stroke-width="0.8"/>
<circle cx="545.2" cy="782.3" r="3" fill="#0b4388" stroke="#fff" stroke-width="0.8"/>
<circle cx="546.9" cy="773.8" r="3" fill="#0b4388" stroke="#fff" stroke-width="0.8"/>
<circle cx="548.6" cy="769.6" r="3" fill="#0b4388" stroke="#fff" stroke-width="0.8"/>
<circle cx="552.1" cy="760.2" r="3" fill="#0b4388" stroke="#fff" stroke-width="0.8"/>
<circle cx="557.2" cy="752.5" r="3" fill="#0b4388" stroke="#fff" stroke-width="0.8"/>
<circle cx="562.3" cy="748.3" r="3" fill="#0b4388" stroke="#fff" stroke-width="0.8"/>
<circle cx="572.6" cy="739.8" r="3" fill="#0b4388" stroke="#fff" stroke-width="0.8"/>
<circle cx="582.8" cy="733.8" r="3" fill="#0b4388" stroke="#fff" stroke-width="0.8"/>
<circle cx="603.4" cy="728.0" r="3" fill="#0b4388" stroke="#fff" stroke-width="0.8"/>
<circle cx="623.9" cy="723.3" r="3" fill="#0b4388" stroke="#fff" stroke-width="0.8"/>
<circle cx="644.4" cy="719.4" r="3" fill="#0b4388" stroke="#fff" stroke-width="0.8"/>
<circle cx="664.9" cy="716.6" r="3" fill="#0b4388" stroke="#fff" stroke-width="0.8"/>
<circle cx="726.5" cy="709.9" r="3" fill="#0b4388" stroke="#fff" stroke-width="0.8"/>
<circle cx="788.0" cy="700.9" r="3" fill="#0b4388" stroke="#fff" stroke-width="0.8"/>
<circle cx="849.6" cy="693.1" r="3" fill="#0b4388" stroke="#fff" stroke-width="0.8"/>
<circle cx="911.2" cy="683.6" r="3" fill="#0b4388" stroke="#fff" stroke-width="0.8"/>
<circle cx="1034.3" cy="668.5" r="3" fill="#0b4388" stroke="#fff" stroke-width="0.8"/>
<path d="M543.5 789.3 L545.2 778.8 L546.9 769.2 L548.6 764.4 L552.1 753.9 L557.2 745.3 L562.3 740.5 L572.6 730.9 L582.8 724.2 L603.4 717.5 L623.9 712.7 L644.4 708.9 L664.9 706.0 L726.5 698.4 L788.0 689.5 L849.6 681.6 L911.2 670.2 L1034.3 653.9" fill="none" stroke="#0a2a5c" stroke-width="1.6" stroke-linejoin="round"/>
<circle cx="543.5" cy="789.3" r="3" fill="#0a2a5c" stroke="#fff" stroke-width="0.8"/>
<circle cx="545.2" cy="778.8" r="3" fill="#0a2a5c" stroke="#fff" stroke-width="0.8"/>
<circle cx="546.9" cy="769.2" r="3" fill="#0a2a5c" stroke="#fff" stroke-width="0.8"/>
<circle cx="548.6" cy="764.4" r="3" fill="#0a2a5c" stroke="#fff" stroke-width="0.8"/>
<circle cx="552.1" cy="753.9" r="3" fill="#0a2a5c" stroke="#fff" stroke-width="0.8"/>
<circle cx="557.2" cy="745.3" r="3" fill="#0a2a5c" stroke="#fff" stroke-width="0.8"/>
<circle cx="562.3" cy="740.5" r="3" fill="#0a2a5c" stroke="#fff" stroke-width="0.8"/>
<circle cx="572.6" cy="730.9" r="3" fill="#0a2a5c" stroke="#fff" stroke-width="0.8"/>
<circle cx="582.8" cy="724.2" r="3" fill="#0a2a5c" stroke="#fff" stroke-width="0.8"/>
<circle cx="603.4" cy="717.5" r="3" fill="#0a2a5c" stroke="#fff" stroke-width="0.8"/>
<circle cx="623.9" cy="712.7" r="3" fill="#0a2a5c" stroke="#fff" stroke-width="0.8"/>
<circle cx="644.4" cy="708.9" r="3" fill="#0a2a5c" stroke="#fff" stroke-width="0.8"/>
<circle cx="664.9" cy="706.0" r="3" fill="#0a2a5c" stroke="#fff" stroke-width="0.8"/>
<circle cx="726.5" cy="698.4" r="3" fill="#0a2a5c" stroke="#fff" stroke-width="0.8"/>
<circle cx="788.0" cy="689.5" r="3" fill="#0a2a5c" stroke="#fff" stroke-width="0.8"/>
<circle cx="849.6" cy="681.6" r="3" fill="#0a2a5c" stroke="#fff" stroke-width="0.8"/>
<circle cx="911.2" cy="670.2" r="3" fill="#0a2a5c" stroke="#fff" stroke-width="0.8"/>
<circle cx="1034.3" cy="653.9" r="3" fill="#0a2a5c" stroke="#fff" stroke-width="0.8"/>
  <path d="M1138.4 768.5H1376.8" stroke="#8c8da2" stroke-width="1.15"/>
<text x="1136.4" y="771.4" text-anchor="end" font-size="8" fill="#4a4a55">0</text>
<path d="M1138.4 757.2H1376.8" stroke="#8c8da2" stroke-width="1.15"/>
<text x="1136.4" y="760.1" text-anchor="end" font-size="8" fill="#4a4a55">1</text>
<path d="M1138.4 745.8H1376.8" stroke="#8c8da2" stroke-width="1.15"/>
<text x="1136.4" y="748.7" text-anchor="end" font-size="8" fill="#4a4a55">2</text>
<path d="M1138.4 734.5H1376.8" stroke="#8c8da2" stroke-width="1.15"/>
<text x="1136.4" y="737.4" text-anchor="end" font-size="8" fill="#4a4a55">3</text>
<path d="M1138.4 723.2H1376.8" stroke="#8c8da2" stroke-width="1.15"/>
<text x="1136.4" y="726.1" text-anchor="end" font-size="8" fill="#4a4a55">4</text>
<path d="M1138.4 711.8H1376.8" stroke="#8c8da2" stroke-width="1.15"/>
<text x="1136.4" y="714.7" text-anchor="end" font-size="8" fill="#4a4a55">5</text>
<path d="M1138.4 700.5H1376.8" stroke="#8c8da2" stroke-width="1.15"/>
<text x="1136.4" y="703.4" text-anchor="end" font-size="8" fill="#4a4a55">6</text>
<path d="M1138.4 689.2H1376.8" stroke="#8c8da2" stroke-width="1.15"/>
<text x="1136.4" y="692.1" text-anchor="end" font-size="8" fill="#4a4a55">7</text>
<path d="M1138.4 677.8H1376.8" stroke="#8c8da2" stroke-width="1.15"/>
<text x="1136.4" y="680.7" text-anchor="end" font-size="8" fill="#4a4a55">8</text>
<path d="M1138.4 666.5H1376.8" stroke="#8c8da2" stroke-width="1.15"/>
<text x="1136.4" y="669.4" text-anchor="end" font-size="8" fill="#4a4a55">9</text>
<path d="M1138.4 655.2H1376.8" stroke="#8c8da2" stroke-width="1.15"/>
<text x="1136.4" y="658.1" text-anchor="end" font-size="8" fill="#4a4a55">10</text>
<path d="M1138.4 643.8H1376.8" stroke="#8c8da2" stroke-width="1.15"/>
<text x="1136.4" y="646.7" text-anchor="end" font-size="8" fill="#4a4a55">11</text>
<path d="M1138.4 632.5H1376.8" stroke="#8c8da2" stroke-width="1.15"/>
<text x="1136.4" y="635.4" text-anchor="end" font-size="8" fill="#4a4a55">12</text>
<path d="M1144.2 632.5V773.5" stroke="#8c8da2" stroke-width="1.3"/>
<path d="M1376.8 768.5V773.5" stroke="#8c8da2" stroke-width="1.2"/>
<rect x="1149.7" y="632.5" width="50.6" height="46.9" fill="#fef0c5"/>
<rect x="1206.3" y="679.9" width="50.7" height="42.9" fill="#fcb40c"/>
<rect x="1263.0" y="722.8" width="50.8" height="29.8" fill="#b07e06"/>
<rect x="1319.8" y="752.6" width="50.6" height="15.9" fill="#6b4c02"/>
<rect x="1157.6" y="646" width="9.2" height="17" fill="#2f86e6"/>
<text x="1158.1" y="660.2" font-size="11.6" fill="#2a2205">A</text>
<text x="1214.7" y="705.6" font-size="11.6" fill="#2a2205">B</text>
<text x="1271.4" y="742.0" font-size="11.6" fill="#2a2205">C</text>
<text x="1328.2" y="764.8" font-size="11.6" fill="#2a2205">D</text>
  <path d="M1568.6 640.6H1564.1V827.8H1568.6" fill="none" stroke="#111" stroke-width="1.7"/>
<path d="M1564 659.3H1569" stroke="#6a6a72" stroke-width="1"/>
<path d="M1564 678.0H1569" stroke="#6a6a72" stroke-width="1"/>
<path d="M1564 696.8H1569" stroke="#6a6a72" stroke-width="1"/>
<path d="M1564 715.5H1569" stroke="#6a6a72" stroke-width="1"/>
<path d="M1564 734.2H1569" stroke="#6a6a72" stroke-width="1"/>
<path d="M1564 752.9H1569" stroke="#6a6a72" stroke-width="1"/>
<path d="M1564 771.6H1569" stroke="#6a6a72" stroke-width="1"/>
<path d="M1564 790.4H1569" stroke="#6a6a72" stroke-width="1"/>
<path d="M1564 809.1H1569" stroke="#6a6a72" stroke-width="1"/>
<text x="1571.6" y="643.6" font-size="8.2" font-weight="bold" fill="#000">200</text>
<text x="1571.6" y="662.3" font-size="8.2" font-weight="bold" fill="#000">180</text>
<text x="1571.6" y="681.0" font-size="8.2" font-weight="bold" fill="#000">160</text>
<text x="1571.6" y="699.8" font-size="8.2" font-weight="bold" fill="#000">140</text>
<text x="1571.6" y="718.5" font-size="8.2" font-weight="bold" fill="#000">120</text>
<text x="1571.6" y="737.2" font-size="8.2" font-weight="bold" fill="#000">100</text>
<text x="1571.6" y="755.9" font-size="8.2" font-weight="bold" fill="#000">80</text>
<text x="1571.6" y="774.6" font-size="8.2" font-weight="bold" fill="#000">60</text>
<text x="1571.6" y="793.4" font-size="8.2" font-weight="bold" fill="#000">40</text>
<text x="1571.6" y="812.1" font-size="8.2" font-weight="bold" fill="#000">20</text>
<text x="1571.6" y="830.8" font-size="8.2" font-weight="bold" fill="#000">0</text>
<defs><linearGradient id="dg" x1="0" x2="1" y1="0" y2="0"><stop offset="0" stop-color="#a7cbee"/><stop offset="0.55" stop-color="#dcebf9"/><stop offset="1" stop-color="#b9d6f2"/></linearGradient></defs>
<path d="M1709 665.2H1771.8V668.6C1771.8 671.6 1757 673.6 1740.4 673.6C1723.8 673.6 1709 671.6 1709 668.6Z" fill="url(#dg)" stroke="#0b0b1a" stroke-width="0.9"/>
<path d="M1709 665.3H1771.8" stroke="#0a1a8c" stroke-width="1.6"/>
<path d="M1709.4 667.2C1712 665.9 1726 665.6 1740.4 665.6C1754.8 665.6 1769 665.9 1771.4 667.2" fill="none" stroke="#0b0b1a" stroke-width="0.7"/>
  </svg>

  <div class="btn" style="left:1168.7px;top:778.9px">No Change</div>
  <div class="btn" style="left:1239.6px;top:778.9px">5% increase</div>
  <div class="btn" style="left:1168.7px;top:812px">10% increase</div>
  <div class="btn" style="left:1239.6px;top:812px">20% increase</div>

  <div id="foot">
    <div style="top:24px;font-size:11.2px;line-height:13px">Copyright © Water4Cities 2020</div>
    <div style="top:39.4px;font-size:8.65px;line-height:8px">This project has received funding from the European Union's Horizon 2020 <a>Research and Innovation Staff Exchange</a> programme under grant agreement number <a>734409</a>. The dissemination of results herein reflects only the author's view<br>and the European Commission is not responsible for any use that may be made of the information it contains.</div>
  </div>
</div>
<div id="sb"><i></i></div>
</body>
</html>
